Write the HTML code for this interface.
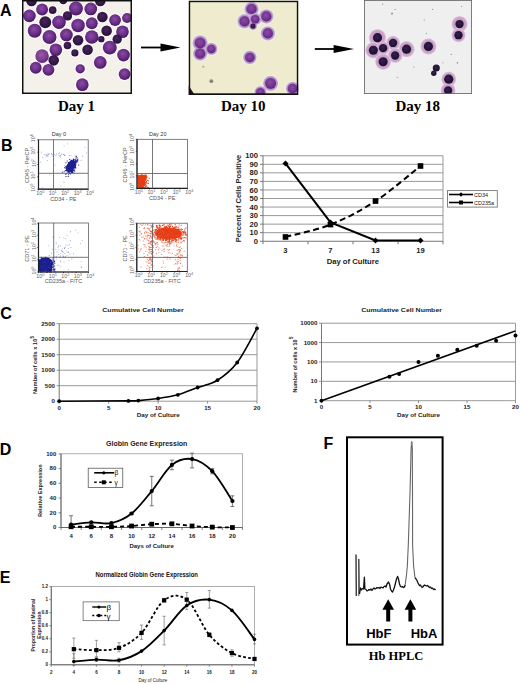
<!DOCTYPE html><html><head><meta charset="utf-8"><style>html,body{margin:0;padding:0;background:#fff;overflow:hidden;width:520px;height:684px;}svg{display:block;}</style></head><body><svg width="520" height="684" viewBox="0 0 520 684"><rect width="520" height="684" fill="#fff"/><defs><radialGradient id="gP" cx="45%" cy="40%" r="60%"><stop offset="0" stop-color="#8a4ca4"/><stop offset="0.6" stop-color="#6a2e88"/><stop offset="1" stop-color="#461a60"/></radialGradient><radialGradient id="gL" cx="45%" cy="40%" r="60%"><stop offset="0" stop-color="#9a5aa8"/><stop offset="0.7" stop-color="#7a3a8e"/><stop offset="1" stop-color="#5a2470"/></radialGradient><radialGradient id="gD" cx="45%" cy="40%" r="60%"><stop offset="0" stop-color="#4a2460"/><stop offset="1" stop-color="#261236"/></radialGradient><radialGradient id="gP2" cx="45%" cy="40%" r="60%"><stop offset="0" stop-color="#8a4ca4"/><stop offset="0.75" stop-color="#70308e"/><stop offset="1" stop-color="#582478"/></radialGradient><radialGradient id="gC2" cx="50%" cy="50%" r="50%"><stop offset="0.7" stop-color="#a882bc"/><stop offset="1" stop-color="#cab6d6"/></radialGradient><radialGradient id="gC3" cx="50%" cy="50%" r="50%"><stop offset="0.4" stop-color="#c494c2"/><stop offset="0.82" stop-color="#cfa6cc"/><stop offset="1" stop-color="#e4d4e4"/></radialGradient><radialGradient id="gN3" cx="45%" cy="40%" r="60%"><stop offset="0" stop-color="#342050"/><stop offset="1" stop-color="#1a0e2c"/></radialGradient></defs><svg x="22" y="0" width="110" height="94" viewBox="0 0 520 444" preserveAspectRatio="none"><rect x="0" y="0" width="520" height="444" fill="#f3f1e9"/><circle cx="45" cy="5" r="30" fill="#fdfbfd"/><circle cx="195" cy="0" r="25" fill="#fdfbfd"/><circle cx="370" cy="5" r="30" fill="#fdfbfd"/><circle cx="95" cy="45" r="33" fill="#fdfbfd"/><circle cx="145" cy="48" r="23" fill="#fdfbfd"/><circle cx="255" cy="40" r="38" fill="#fdfbfd"/><circle cx="325" cy="42" r="35" fill="#fdfbfd"/><circle cx="35" cy="75" r="35" fill="#fdfbfd"/><circle cx="215" cy="75" r="27" fill="#fdfbfd"/><circle cx="380" cy="80" r="30" fill="#fdfbfd"/><circle cx="440" cy="95" r="33" fill="#fdfbfd"/><circle cx="497" cy="85" r="29" fill="#fdfbfd"/><circle cx="110" cy="105" r="33" fill="#fdfbfd"/><circle cx="175" cy="105" r="37" fill="#fdfbfd"/><circle cx="265" cy="120" r="37" fill="#fdfbfd"/><circle cx="330" cy="110" r="33" fill="#fdfbfd"/><circle cx="60" cy="145" r="38" fill="#fdfbfd"/><circle cx="130" cy="175" r="38" fill="#fdfbfd"/><circle cx="210" cy="165" r="35" fill="#fdfbfd"/><circle cx="330" cy="175" r="37" fill="#fdfbfd"/><circle cx="400" cy="145" r="30" fill="#fdfbfd"/><circle cx="475" cy="150" r="35" fill="#fdfbfd"/><circle cx="265" cy="190" r="30" fill="#fdfbfd"/><circle cx="375" cy="185" r="20" fill="#fdfbfd"/><circle cx="450" cy="185" r="27" fill="#fdfbfd"/><circle cx="215" cy="215" r="23" fill="#fdfbfd"/><circle cx="160" cy="235" r="35" fill="#fdfbfd"/><circle cx="310" cy="235" r="30" fill="#fdfbfd"/><circle cx="415" cy="225" r="38" fill="#fdfbfd"/><circle cx="250" cy="250" r="22" fill="#fdfbfd"/><circle cx="95" cy="265" r="37" fill="#fdfbfd"/><circle cx="150" cy="285" r="30" fill="#fdfbfd"/><circle cx="480" cy="260" r="35" fill="#fdfbfd"/><circle cx="370" cy="295" r="35" fill="#fdfbfd"/><circle cx="65" cy="320" r="33" fill="#fdfbfd"/><circle cx="125" cy="330" r="33" fill="#fdfbfd"/><circle cx="275" cy="325" r="27" fill="#fdfbfd"/><circle cx="485" cy="350" r="33" fill="#fdfbfd"/><circle cx="285" cy="400" r="35" fill="#fdfbfd"/><circle cx="45" cy="5" r="25" fill="url(#gD)"/><circle cx="195" cy="0" r="20" fill="url(#gD)"/><circle cx="370" cy="5" r="25" fill="url(#gD)"/><circle cx="95" cy="45" r="28" fill="url(#gP)"/><circle cx="145" cy="48" r="18" fill="url(#gD)"/><circle cx="255" cy="40" r="33" fill="url(#gP)"/><circle cx="325" cy="42" r="30" fill="url(#gP)"/><circle cx="35" cy="75" r="30" fill="url(#gP)"/><circle cx="215" cy="75" r="22" fill="url(#gD)"/><circle cx="380" cy="80" r="25" fill="url(#gD)"/><circle cx="440" cy="95" r="28" fill="url(#gP)"/><circle cx="497" cy="85" r="24" fill="url(#gP)"/><circle cx="110" cy="105" r="28" fill="url(#gD)"/><circle cx="175" cy="105" r="32" fill="url(#gP)"/><circle cx="265" cy="120" r="32" fill="url(#gP)"/><circle cx="330" cy="110" r="28" fill="url(#gP)"/><circle cx="60" cy="145" r="33" fill="url(#gP)"/><circle cx="130" cy="175" r="33" fill="url(#gP)"/><circle cx="210" cy="165" r="30" fill="url(#gP)"/><circle cx="330" cy="175" r="32" fill="url(#gP)"/><circle cx="400" cy="145" r="25" fill="url(#gD)"/><circle cx="475" cy="150" r="30" fill="url(#gP)"/><circle cx="265" cy="190" r="25" fill="url(#gD)"/><circle cx="375" cy="185" r="15" fill="url(#gD)"/><circle cx="450" cy="185" r="22" fill="url(#gD)"/><circle cx="215" cy="215" r="18" fill="url(#gD)"/><circle cx="160" cy="235" r="30" fill="url(#gP)"/><circle cx="310" cy="235" r="25" fill="url(#gD)"/><circle cx="415" cy="225" r="33" fill="url(#gP)"/><circle cx="250" cy="250" r="17" fill="url(#gD)"/><circle cx="95" cy="265" r="32" fill="url(#gL)"/><circle cx="150" cy="285" r="25" fill="url(#gD)"/><circle cx="480" cy="260" r="30" fill="url(#gP)"/><circle cx="370" cy="295" r="30" fill="url(#gP)"/><circle cx="65" cy="320" r="28" fill="url(#gP)"/><circle cx="125" cy="330" r="28" fill="url(#gP)"/><circle cx="275" cy="325" r="22" fill="url(#gP)"/><circle cx="485" cy="350" r="28" fill="url(#gP)"/><circle cx="285" cy="400" r="30" fill="url(#gP)"/><rect x="3.5" y="3.5" width="513" height="437" fill="none" stroke="#111" stroke-width="7"/></svg><svg x="188.5" y="0.5" width="110" height="94.5" viewBox="0 0 520 445" preserveAspectRatio="none"><rect x="0" y="0" width="520" height="445" fill="#efebcf"/><circle cx="298" cy="40" r="37" fill="#f6f3f0"/><circle cx="265" cy="98" r="37" fill="#f6f3f0"/><circle cx="368" cy="75" r="37" fill="#f6f3f0"/><circle cx="315" cy="88" r="32" fill="#f6f3f0"/><circle cx="305" cy="120" r="22" fill="#f6f3f0"/><circle cx="375" cy="155" r="37" fill="#f6f3f0"/><circle cx="55" cy="200" r="39" fill="#f6f3f0"/><circle cx="55" cy="250" r="37" fill="#f6f3f0"/><circle cx="108" cy="228" r="32" fill="#f6f3f0"/><circle cx="290" cy="268" r="35" fill="#f6f3f0"/><circle cx="388" cy="390" r="39" fill="#f6f3f0"/><circle cx="340" cy="432" r="32" fill="#f6f3f0"/><circle cx="492" cy="415" r="35" fill="#f6f3f0"/><circle cx="298" cy="40" r="34" fill="url(#gC2)"/><circle cx="265" cy="98" r="34" fill="url(#gC2)"/><circle cx="368" cy="75" r="34" fill="url(#gC2)"/><circle cx="315" cy="88" r="29" fill="url(#gC2)"/><circle cx="305" cy="120" r="19" fill="url(#gC2)"/><circle cx="375" cy="155" r="34" fill="url(#gC2)"/><circle cx="55" cy="200" r="36" fill="url(#gC2)"/><circle cx="55" cy="250" r="34" fill="url(#gC2)"/><circle cx="108" cy="228" r="29" fill="url(#gC2)"/><circle cx="290" cy="268" r="32" fill="url(#gC2)"/><circle cx="388" cy="390" r="36" fill="url(#gC2)"/><circle cx="340" cy="432" r="29" fill="url(#gC2)"/><circle cx="492" cy="415" r="32" fill="url(#gC2)"/><circle cx="298" cy="40" r="24.0" fill="url(#gP2)"/><circle cx="265" cy="98" r="24.0" fill="url(#gP2)"/><circle cx="368" cy="75" r="24.0" fill="url(#gP2)"/><circle cx="315" cy="88" r="20.0" fill="url(#gP2)"/><circle cx="305" cy="120" r="12.0" fill="url(#gD)"/><circle cx="375" cy="155" r="24.0" fill="url(#gP2)"/><circle cx="55" cy="200" r="25.6" fill="url(#gP2)"/><circle cx="55" cy="250" r="24.0" fill="url(#gP2)"/><circle cx="108" cy="228" r="20.0" fill="url(#gP2)"/><circle cx="290" cy="268" r="22.4" fill="url(#gP2)"/><circle cx="388" cy="390" r="25.6" fill="url(#gP2)"/><circle cx="340" cy="432" r="20.0" fill="url(#gP2)"/><circle cx="492" cy="415" r="22.4" fill="url(#gP2)"/><circle cx="108" cy="380" r="9" fill="#8a8478"/><circle cx="70" cy="312" r="5" fill="#b0aa98"/><path d="M0,400 L30,445 L0,445 Z" fill="#201018"/><rect x="4" y="4" width="512" height="437" fill="none" stroke="#111" stroke-width="8"/></svg><svg x="364" y="0" width="108" height="94" viewBox="0 0 520 449" preserveAspectRatio="none"><rect x="0" y="0" width="520" height="449" fill="#f0eff0"/><circle cx="65" cy="180" r="42" fill="url(#gC3)"/><circle cx="140" cy="205" r="34" fill="url(#gC3)"/><circle cx="45" cy="240" r="39" fill="url(#gC3)"/><circle cx="92" cy="230" r="32" fill="url(#gC3)"/><circle cx="205" cy="235" r="39" fill="url(#gC3)"/><circle cx="150" cy="265" r="36" fill="url(#gC3)"/><circle cx="92" cy="295" r="39" fill="url(#gC3)"/><circle cx="310" cy="222" r="39" fill="url(#gC3)"/><circle cx="460" cy="115" r="39" fill="url(#gC3)"/><circle cx="455" cy="168" r="34" fill="url(#gC3)"/><circle cx="408" cy="378" r="36" fill="url(#gC3)"/><circle cx="405" cy="432" r="36" fill="url(#gC3)"/><circle cx="65" cy="180" r="22" fill="url(#gN3)"/><circle cx="140" cy="205" r="20" fill="url(#gN3)"/><circle cx="45" cy="240" r="22" fill="url(#gN3)"/><circle cx="92" cy="230" r="20" fill="url(#gN3)"/><circle cx="205" cy="235" r="22" fill="url(#gN3)"/><circle cx="150" cy="265" r="20" fill="url(#gN3)"/><circle cx="92" cy="295" r="22" fill="url(#gN3)"/><circle cx="310" cy="222" r="22" fill="url(#gN3)"/><circle cx="460" cy="115" r="20" fill="url(#gN3)"/><circle cx="455" cy="168" r="20" fill="url(#gN3)"/><circle cx="408" cy="378" r="22" fill="url(#gN3)"/><circle cx="405" cy="432" r="20" fill="url(#gN3)"/><circle cx="135" cy="65" r="5" fill="#9a98a0"/><circle cx="150" cy="45" r="3" fill="#9a98a0"/><circle cx="290" cy="95" r="3" fill="#9a98a0"/><circle cx="330" cy="45" r="3" fill="#9a98a0"/><circle cx="300" cy="160" r="3" fill="#9a98a0"/><circle cx="470" cy="30" r="3" fill="#9a98a0"/><circle cx="450" cy="300" r="4" fill="#9a98a0"/><circle cx="160" cy="370" r="3" fill="#9a98a0"/><circle cx="90" cy="20" r="3" fill="#9a98a0"/><circle cx="420" cy="260" r="3" fill="#9a98a0"/><circle cx="240" cy="320" r="3" fill="#9a98a0"/><circle cx="380" cy="300" r="3" fill="#9a98a0"/><circle cx="348" cy="325" r="17" fill="url(#gN3)"/><circle cx="336" cy="350" r="13" fill="url(#gN3)"/><rect x="2" y="2" width="516" height="445" fill="none" stroke="#666" stroke-width="4"/></svg><line x1="141" y1="47.5" x2="161.5" y2="47.5" stroke="#000" stroke-width="1.8"/><path d="M160.5,43.4 L180.5,47.5 L160.5,51.6 Z" fill="#000"/><line x1="314.8" y1="49" x2="334.6" y2="49" stroke="#000" stroke-width="1.8"/><path d="M333.6,44.9 L354,49 L333.6,53.1 Z" fill="#000"/><text x="0" y="16" font-family="'Liberation Sans', sans-serif" font-size="16" font-weight="bold" text-anchor="start" fill="#000"  >A</text><text x="76.5" y="111.3" font-family="'Liberation Serif', serif" font-size="15" font-weight="bold" text-anchor="middle" fill="#000"  >Day 1</text><text x="243.3" y="111.3" font-family="'Liberation Serif', serif" font-size="15" font-weight="bold" text-anchor="middle" fill="#000"  >Day 10</text><text x="417.8" y="111.4" font-family="'Liberation Serif', serif" font-size="15" font-weight="bold" text-anchor="middle" fill="#000"  >Day 18</text><text x="0.9" y="151.4" font-family="'Liberation Sans', sans-serif" font-size="16" font-weight="bold" text-anchor="start" fill="#000"  >B</text><ellipse cx="71" cy="166" rx="4" ry="6" transform="rotate(30 71 166)" fill="#161a88"/><path d="M71,165.53h1v1h-1zM71.84,167.22h1v1h-1zM70.23,166.4h1v1h-1zM68.51,164.5h1v1h-1zM69.73,166.59h1v1h-1zM68.22,168.12h1v1h-1zM71.17,168.76h1v1h-1zM74.75,160.62h1v1h-1zM69.62,166.86h1v1h-1zM69.26,162.05h1v1h-1zM72.37,166.99h1v1h-1zM72,162.04h1v1h-1zM71.3,160.36h1v1h-1zM68.39,167.66h1v1h-1zM70.92,169.38h1v1h-1zM72.95,160.04h1v1h-1zM67.24,165.39h1v1h-1zM69.72,164.67h1v1h-1zM65.68,166.37h1v1h-1zM67.39,169.69h1v1h-1zM65.84,167.22h1v1h-1zM70.34,164.3h1v1h-1zM67.45,170.26h1v1h-1zM71.76,163.19h1v1h-1zM71.44,166.99h1v1h-1zM70.48,163.45h1v1h-1zM63.95,167.34h1v1h-1zM69.49,161.55h1v1h-1zM70.86,171.69h1v1h-1zM71.32,164.81h1v1h-1zM66.72,169.76h1v1h-1zM69.66,166.85h1v1h-1zM68.26,168.42h1v1h-1zM68.74,167.75h1v1h-1zM73.97,169.64h1v1h-1zM68.74,164.48h1v1h-1zM70.91,161.38h1v1h-1zM73.48,161.21h1v1h-1zM69.37,163.14h1v1h-1zM70.69,168.47h1v1h-1zM71.31,168.25h1v1h-1zM71.18,162.98h1v1h-1zM67.57,164.25h1v1h-1zM71.21,164.78h1v1h-1zM74.8,167.49h1v1h-1zM66.67,160.59h1v1h-1zM73.41,165.88h1v1h-1zM71.33,162.53h1v1h-1zM69.2,170.4h1v1h-1zM76.6,158.8h1v1h-1zM73.13,163.63h1v1h-1zM67.64,163.85h1v1h-1zM71.21,162.91h1v1h-1zM72.61,169.02h1v1h-1zM70.47,168.84h1v1h-1zM72.91,163.44h1v1h-1zM70.81,163.52h1v1h-1zM72.87,158.98h1v1h-1zM75.03,161.97h1v1h-1zM69.11,167.24h1v1h-1zM71.57,165.35h1v1h-1zM69.7,166.64h1v1h-1zM71.36,162.38h1v1h-1zM67.68,168.15h1v1h-1zM69.38,167.03h1v1h-1zM70.45,170.27h1v1h-1zM73.52,169.83h1v1h-1zM74.21,163.32h1v1h-1zM67.29,166.32h1v1h-1zM68.78,167.38h1v1h-1zM72.81,162.89h1v1h-1zM65.42,167.71h1v1h-1zM69.7,166.74h1v1h-1zM70.73,163.06h1v1h-1zM74.52,165.33h1v1h-1zM72.93,164.32h1v1h-1zM70.08,167.4h1v1h-1zM69.97,166.18h1v1h-1zM70.3,164.31h1v1h-1zM75.27,160.13h1v1h-1zM69.8,166.13h1v1h-1zM70.15,164.95h1v1h-1zM71.99,166.01h1v1h-1zM70.66,166.23h1v1h-1zM70.45,162.29h1v1h-1zM67.88,168.41h1v1h-1zM70.97,161.99h1v1h-1zM69.76,165.02h1v1h-1zM74.27,162.81h1v1h-1zM72.83,158.47h1v1h-1zM70.93,166.32h1v1h-1zM72.87,165.13h1v1h-1zM70.05,166.2h1v1h-1zM73.95,162.64h1v1h-1zM70.98,164.89h1v1h-1zM72.63,161.91h1v1h-1zM67.39,167.75h1v1h-1zM71.97,163.65h1v1h-1zM66.27,169.62h1v1h-1zM65.3,166.41h1v1h-1zM70.15,167.31h1v1h-1zM68.48,168.21h1v1h-1zM71.46,165.25h1v1h-1zM77.29,160.23h1v1h-1zM68.67,169.31h1v1h-1zM69.25,162.23h1v1h-1zM71.58,166.98h1v1h-1zM72.38,165.75h1v1h-1zM70.51,167.2h1v1h-1zM70.42,167.56h1v1h-1zM72.97,162.64h1v1h-1zM72.46,164.19h1v1h-1zM68.11,169.96h1v1h-1zM70.78,167.45h1v1h-1zM71.1,166.55h1v1h-1zM68.05,163.53h1v1h-1zM71.73,167.1h1v1h-1zM68.6,171.21h1v1h-1zM73.72,167.11h1v1h-1zM71.54,166.32h1v1h-1zM71.25,161.14h1v1h-1zM69.35,170h1v1h-1zM70.67,165.79h1v1h-1zM65.41,162.34h1v1h-1zM67.83,169.37h1v1h-1zM72.02,160.8h1v1h-1zM65.04,166.32h1v1h-1zM73.37,162.41h1v1h-1zM66.11,173.28h1v1h-1zM73.12,163.39h1v1h-1zM68.63,168.49h1v1h-1zM73.18,169.71h1v1h-1zM71.37,170.53h1v1h-1zM66.7,168.73h1v1h-1zM74.5,162.8h1v1h-1zM75.04,159.35h1v1h-1zM70.82,164.04h1v1h-1zM70.23,167.82h1v1h-1zM70.55,167.51h1v1h-1zM68.27,168.26h1v1h-1zM74.08,166.82h1v1h-1zM69.48,164.75h1v1h-1zM70.86,165.93h1v1h-1zM68.78,169.77h1v1h-1zM69.25,169h1v1h-1zM67.42,171.75h1v1h-1zM74.52,164.7h1v1h-1zM70.57,165.37h1v1h-1zM73.7,165.18h1v1h-1zM71.04,162.96h1v1h-1zM69.06,162.45h1v1h-1zM70.09,168.39h1v1h-1zM69.43,166.94h1v1h-1zM71.02,166.91h1v1h-1zM69.95,161.64h1v1h-1zM70.16,165.5h1v1h-1zM67.14,166.93h1v1h-1zM68.74,165h1v1h-1zM75.63,155.95h1v1h-1zM69.12,166.32h1v1h-1zM68.05,170.78h1v1h-1zM71.94,166.48h1v1h-1zM74.94,161.41h1v1h-1zM66.93,168.83h1v1h-1zM70.42,168.69h1v1h-1zM69.23,158.95h1v1h-1zM66.07,169.11h1v1h-1zM73.06,166.18h1v1h-1zM70.93,168.1h1v1h-1zM71.2,170.97h1v1h-1zM68.89,170.9h1v1h-1zM72.27,166.04h1v1h-1zM69.49,167.98h1v1h-1zM70.6,168.65h1v1h-1zM67.9,166.57h1v1h-1zM67.59,168.29h1v1h-1zM74.74,166.08h1v1h-1zM69.58,172.89h1v1h-1zM71.82,164.94h1v1h-1zM70.91,165.92h1v1h-1zM69.76,167.47h1v1h-1zM69.58,171.04h1v1h-1zM72.76,164.66h1v1h-1zM70.15,171.02h1v1h-1zM70.58,163.39h1v1h-1zM71.06,165.4h1v1h-1zM74.29,163.07h1v1h-1zM72.91,167.02h1v1h-1zM72.07,168.39h1v1h-1zM69.42,162.58h1v1h-1zM67.13,165.98h1v1h-1zM73.66,165.13h1v1h-1zM73.71,162.11h1v1h-1zM70.61,161.7h1v1h-1zM72.52,168.05h1v1h-1zM73.19,165.94h1v1h-1zM73.33,165.84h1v1h-1zM73.58,162.75h1v1h-1zM69.72,170h1v1h-1zM75.24,162.28h1v1h-1zM67.51,171.76h1v1h-1zM73.41,161.55h1v1h-1zM72.38,162.45h1v1h-1zM73.45,164.89h1v1h-1zM76.26,160.17h1v1h-1zM75.16,165.09h1v1h-1zM67.79,169.05h1v1h-1zM66.27,166.57h1v1h-1zM73.29,164.6h1v1h-1zM68.16,166.95h1v1h-1zM70.97,168.78h1v1h-1zM73.35,162.44h1v1h-1zM66.4,167.93h1v1h-1zM65.09,173.82h1v1h-1zM71.73,172.22h1v1h-1zM71.12,171.92h1v1h-1zM70.31,166.68h1v1h-1zM71.11,166.58h1v1h-1zM68.59,172.31h1v1h-1zM66.76,168.62h1v1h-1zM70.53,163.39h1v1h-1zM68.28,168.28h1v1h-1zM66.4,170.61h1v1h-1zM72.42,162.51h1v1h-1zM70.83,161.17h1v1h-1zM72.14,160.88h1v1h-1zM68.23,169.96h1v1h-1zM69.16,165.02h1v1h-1zM68.2,167.55h1v1h-1zM68.52,168.39h1v1h-1zM71.55,167.47h1v1h-1zM68.81,166.54h1v1h-1zM72,166.79h1v1h-1zM71.95,162.65h1v1h-1zM76.67,160.9h1v1h-1zM67.1,165.68h1v1h-1zM73.49,167.64h1v1h-1zM70.75,166.1h1v1h-1zM70.96,163.8h1v1h-1zM66.94,167.81h1v1h-1zM69.71,166.24h1v1h-1zM73.08,166.63h1v1h-1zM70.77,161.37h1v1h-1zM71.23,162.72h1v1h-1zM70.19,165.44h1v1h-1zM74.23,171.33h1v1h-1zM70.94,168.92h1v1h-1zM64.84,170.02h1v1h-1zM69.06,169.51h1v1h-1zM65.49,176.08h1v1h-1zM61.9,171.74h1v1h-1zM69.52,165.95h1v1h-1zM74.73,167h1v1h-1zM71.13,167.39h1v1h-1zM67.72,170.34h1v1h-1zM68.37,166.33h1v1h-1zM74.17,169.55h1v1h-1zM71.44,170.83h1v1h-1zM71.13,167.61h1v1h-1zM70.85,168.16h1v1h-1zM71.11,159.83h1v1h-1zM73.26,166.32h1v1h-1zM72.55,164.32h1v1h-1zM71.6,166.88h1v1h-1zM68.08,170.12h1v1h-1zM72.43,163.96h1v1h-1zM69.08,162.27h1v1h-1zM74.06,164.94h1v1h-1zM67.44,166.29h1v1h-1zM70.61,165.28h1v1h-1zM70.98,164.2h1v1h-1zM67.29,167.6h1v1h-1zM75.82,155.65h1v1h-1zM75.09,166.77h1v1h-1zM69.7,167.68h1v1h-1zM73.16,167.81h1v1h-1zM72.06,171.2h1v1h-1zM63.68,171.24h1v1h-1zM71.7,160.09h1v1h-1zM70.83,163.43h1v1h-1zM71.23,162.21h1v1h-1zM67.98,166.62h1v1h-1zM70.25,166.77h1v1h-1zM70.5,160.33h1v1h-1zM74.33,164.68h1v1h-1zM71.94,160.8h1v1h-1zM70.98,166.91h1v1h-1zM75.28,162.64h1v1h-1zM69.45,166.16h1v1h-1zM69.91,166.55h1v1h-1zM65.91,167.97h1v1h-1zM75.39,161.05h1v1h-1zM73.7,159.03h1v1h-1zM73.57,164.1h1v1h-1zM72.87,170.22h1v1h-1zM71.31,171.74h1v1h-1zM71.6,169.55h1v1h-1zM70.29,168.62h1v1h-1zM70.43,164.37h1v1h-1zM71.15,170.23h1v1h-1zM75.23,162.84h1v1h-1zM72.56,164.69h1v1h-1zM70.84,165.24h1v1h-1zM69.38,167.42h1v1h-1zM69.22,165.95h1v1h-1zM75.49,162.57h1v1h-1zM72.42,161.74h1v1h-1zM71.19,164.74h1v1h-1zM70.03,173.54h1v1h-1zM67.89,167.99h1v1h-1zM70.81,165.41h1v1h-1zM73.45,165.87h1v1h-1zM69.9,168.91h1v1h-1zM70.36,163.1h1v1h-1zM70.38,165.81h1v1h-1zM71.31,168.54h1v1h-1zM66.54,169.97h1v1h-1zM70.34,166.83h1v1h-1zM68.61,172.36h1v1h-1zM73.48,162.21h1v1h-1zM68.84,167.77h1v1h-1zM72.62,163.29h1v1h-1zM75.27,167.46h1v1h-1zM70.12,160.75h1v1h-1zM69.32,165.18h1v1h-1zM71.54,164.03h1v1h-1zM70.99,168h1v1h-1zM68.22,169.79h1v1h-1zM72.29,169.28h1v1h-1zM76.64,157.28h1v1h-1zM70.28,168.77h1v1h-1zM70.43,165.52h1v1h-1zM68.07,166.07h1v1h-1zM71.89,166.99h1v1h-1zM67.51,165.7h1v1h-1zM67.9,161.95h1v1h-1zM74.58,162.35h1v1h-1zM68.46,163.29h1v1h-1zM74.03,161.91h1v1h-1zM75.27,164.1h1v1h-1zM71.73,166.42h1v1h-1zM72.55,169.68h1v1h-1zM76.47,161.53h1v1h-1zM70.45,161.78h1v1h-1zM69.34,164.9h1v1h-1zM67.21,165.92h1v1h-1zM71.12,162.26h1v1h-1zM75.14,164.38h1v1h-1zM73.69,162.16h1v1h-1zM68.36,161.92h1v1h-1zM68.6,169.79h1v1h-1zM69.59,166.66h1v1h-1zM71.82,166.49h1v1h-1zM70.43,166.72h1v1h-1zM71.6,167.47h1v1h-1zM71.83,165.53h1v1h-1zM70.16,170.31h1v1h-1zM70.89,167.36h1v1h-1zM71.58,166.77h1v1h-1zM70.76,167.4h1v1h-1zM72.41,160.62h1v1h-1zM76.24,161.8h1v1h-1zM72.66,164.05h1v1h-1zM71.16,166.51h1v1h-1zM66.28,165.25h1v1h-1zM72.09,170.14h1v1h-1zM65.55,170.17h1v1h-1zM67.05,165.15h1v1h-1zM73.39,159.17h1v1h-1zM72.98,163.76h1v1h-1zM70.58,166.03h1v1h-1zM66.21,167.23h1v1h-1zM69.96,167.01h1v1h-1zM69.1,165.42h1v1h-1zM72.78,166.4h1v1h-1zM77.32,159.35h1v1h-1zM71.61,165.45h1v1h-1zM68.82,170.49h1v1h-1zM67.72,176.05h1v1h-1zM70.84,163.08h1v1h-1zM70.5,164.95h1v1h-1zM67.78,165.75h1v1h-1zM71.33,168.13h1v1h-1zM67.78,164.83h1v1h-1zM74.11,162.34h1v1h-1zM73.98,163.81h1v1h-1zM74.04,160.91h1v1h-1zM69.67,164.06h1v1h-1zM72.44,163.55h1v1h-1zM70.63,159.95h1v1h-1zM69.91,162.42h1v1h-1zM70.05,165.43h1v1h-1zM67.36,169.02h1v1h-1zM66.96,168.3h1v1h-1zM73.22,159.09h1v1h-1zM70.46,164.98h1v1h-1zM71.61,167.97h1v1h-1zM73.8,165.69h1v1h-1zM66.15,169.19h1v1h-1zM68.8,164.88h1v1h-1zM71.49,167.55h1v1h-1zM72.1,163.48h1v1h-1zM69.94,163.23h1v1h-1zM73.88,161.55h1v1h-1zM71.59,169.94h1v1h-1zM67.6,169.06h1v1h-1zM68.39,171.33h1v1h-1zM73.26,162.96h1v1h-1zM72.3,167.9h1v1h-1zM65.68,167.95h1v1h-1zM74.77,162.86h1v1h-1zM72.67,172.29h1v1h-1zM74.76,165.65h1v1h-1zM69.93,165.25h1v1h-1zM70.17,166.33h1v1h-1zM67.85,169.21h1v1h-1zM78.1,164.62h1v1h-1zM70.51,164.88h1v1h-1zM75.45,157.62h1v1h-1zM69.19,166.44h1v1h-1zM71.46,165.72h1v1h-1zM66.32,169.64h1v1h-1zM69.93,170.72h1v1h-1zM73.75,165h1v1h-1zM67.5,170.92h1v1h-1zM74,160.57h1v1h-1zM71.94,167.94h1v1h-1zM68.08,174.37h1v1h-1zM69.6,169.32h1v1h-1zM69.71,167.67h1v1h-1zM70.86,166.56h1v1h-1zM69.5,172.43h1v1h-1zM68.68,164.85h1v1h-1zM70.15,166.27h1v1h-1zM68.12,169.42h1v1h-1zM67.39,170.79h1v1h-1zM70.87,164.78h1v1h-1zM73.47,165.18h1v1h-1zM66.72,168.19h1v1h-1zM71.01,166.36h1v1h-1zM69.18,166.89h1v1h-1zM68.26,164.5h1v1h-1zM73.39,164.25h1v1h-1zM69.55,169.66h1v1h-1zM75.2,160.13h1v1h-1zM68.82,166.82h1v1h-1zM72.08,167.23h1v1h-1zM70.36,163.23h1v1h-1zM68.89,168.04h1v1h-1zM72.65,161.65h1v1h-1z" fill="#1c2090" fill-opacity="1"/><path d="M63.89,155.05h0.8v0.8h-0.8zM63.92,154.41h0.8v0.8h-0.8zM45.61,155.73h0.8v0.8h-0.8zM40.99,151.79h0.8v0.8h-0.8zM64.6,155.26h0.8v0.8h-0.8zM51.03,153.26h0.8v0.8h-0.8zM48.41,154.23h0.8v0.8h-0.8zM61.31,153.43h0.8v0.8h-0.8zM63.92,154.95h0.8v0.8h-0.8zM47.73,153.41h0.8v0.8h-0.8zM56.06,153.4h0.8v0.8h-0.8zM59.14,152.62h0.8v0.8h-0.8zM45.55,154.47h0.8v0.8h-0.8zM55.55,155.1h0.8v0.8h-0.8zM51.68,155.73h0.8v0.8h-0.8zM46.64,154.33h0.8v0.8h-0.8zM47.08,155.76h0.8v0.8h-0.8zM52.67,154.52h0.8v0.8h-0.8zM52.3,154.39h0.8v0.8h-0.8zM46.35,155.19h0.8v0.8h-0.8zM47.74,155.77h0.8v0.8h-0.8zM63.13,154.09h0.8v0.8h-0.8zM54.14,154.21h0.8v0.8h-0.8zM60.85,154.31h0.8v0.8h-0.8zM64.02,154.6h0.8v0.8h-0.8zM57.89,153.42h0.8v0.8h-0.8zM74.71,155.73h0.8v0.8h-0.8zM43.75,154.02h0.8v0.8h-0.8zM60.08,155.05h0.8v0.8h-0.8zM48.82,153.51h0.8v0.8h-0.8zM70.56,154.93h0.8v0.8h-0.8zM69,154.97h0.8v0.8h-0.8zM42.31,156.93h0.8v0.8h-0.8zM58.64,154.95h0.8v0.8h-0.8zM59.9,156.63h0.8v0.8h-0.8zM59.37,155.65h0.8v0.8h-0.8zM51.29,153.71h0.8v0.8h-0.8zM85.95,152.48h0.8v0.8h-0.8zM80.71,159.92h0.8v0.8h-0.8zM54.63,164.72h0.8v0.8h-0.8zM40.38,161.79h0.8v0.8h-0.8zM49.38,174.48h0.8v0.8h-0.8zM63.61,181.83h0.8v0.8h-0.8zM82.15,155.87h0.8v0.8h-0.8zM53.16,185.13h0.8v0.8h-0.8zM63.67,145.53h0.8v0.8h-0.8zM42.17,187.54h0.8v0.8h-0.8zM67.23,143.55h0.8v0.8h-0.8zM64.03,164.69h0.8v0.8h-0.8zM60.46,185.72h0.8v0.8h-0.8zM84.61,146.88h0.8v0.8h-0.8zM47.13,160.14h0.8v0.8h-0.8z" fill="#5060b0" fill-opacity="0.7"/><rect x="38.5" y="139.8" width="49.7" height="49.39999999999998" fill="none" stroke="#555" stroke-width="0.75"/><line x1="38.5" y1="139.8" x2="38.5" y2="189.2" stroke="#222" stroke-width="1.2"/><line x1="38.5" y1="189.2" x2="88.2" y2="189.2" stroke="#222" stroke-width="1.2"/><line x1="53.5" y1="139.8" x2="53.5" y2="189.2" stroke="#555" stroke-width="0.8"/><line x1="38.5" y1="173.3" x2="88.2" y2="173.3" stroke="#555" stroke-width="0.8"/><text x="58.85" y="136.3" font-family="'Liberation Sans', sans-serif" font-size="5.5" font-weight="normal" text-anchor="middle" fill="#333"  >Day 0</text><text x="40.3" y="194.8" font-family="'Liberation Sans', sans-serif" font-size="5.2" font-weight="normal" text-anchor="middle" fill="#666"  >10<tspan font-size="3.8" dy="-2">0</tspan></text><text x="35.5" y="187.7" font-family="'Liberation Sans', sans-serif" font-size="5.2" font-weight="normal" text-anchor="middle" fill="#666"  transform="rotate(-90 35.5 187.7)">10<tspan font-size="3.8" dy="-2">0</tspan></text><line x1="37.3" y1="189.2" x2="38.5" y2="189.2" stroke="#222" stroke-width="0.8"/><line x1="38.5" y1="189.2" x2="38.5" y2="190.39999999999998" stroke="#222" stroke-width="0.8"/><text x="52.72" y="194.8" font-family="'Liberation Sans', sans-serif" font-size="5.2" font-weight="normal" text-anchor="middle" fill="#666"  >10<tspan font-size="3.8" dy="-2">1</tspan></text><text x="35.5" y="175.35" font-family="'Liberation Sans', sans-serif" font-size="5.2" font-weight="normal" text-anchor="middle" fill="#666"  transform="rotate(-90 35.5 175.35)">10<tspan font-size="3.8" dy="-2">1</tspan></text><line x1="37.3" y1="176.85" x2="38.5" y2="176.85" stroke="#222" stroke-width="0.8"/><line x1="50.92" y1="189.2" x2="50.92" y2="190.39999999999998" stroke="#222" stroke-width="0.8"/><text x="65.15" y="194.8" font-family="'Liberation Sans', sans-serif" font-size="5.2" font-weight="normal" text-anchor="middle" fill="#666"  >10<tspan font-size="3.8" dy="-2">2</tspan></text><text x="35.5" y="163" font-family="'Liberation Sans', sans-serif" font-size="5.2" font-weight="normal" text-anchor="middle" fill="#666"  transform="rotate(-90 35.5 163)">10<tspan font-size="3.8" dy="-2">2</tspan></text><line x1="37.3" y1="164.5" x2="38.5" y2="164.5" stroke="#222" stroke-width="0.8"/><line x1="63.35" y1="189.2" x2="63.35" y2="190.39999999999998" stroke="#222" stroke-width="0.8"/><text x="77.58" y="194.8" font-family="'Liberation Sans', sans-serif" font-size="5.2" font-weight="normal" text-anchor="middle" fill="#666"  >10<tspan font-size="3.8" dy="-2">3</tspan></text><text x="35.5" y="150.65" font-family="'Liberation Sans', sans-serif" font-size="5.2" font-weight="normal" text-anchor="middle" fill="#666"  transform="rotate(-90 35.5 150.65)">10<tspan font-size="3.8" dy="-2">3</tspan></text><line x1="37.3" y1="152.15" x2="38.5" y2="152.15" stroke="#222" stroke-width="0.8"/><line x1="75.78" y1="189.2" x2="75.78" y2="190.39999999999998" stroke="#222" stroke-width="0.8"/><text x="90" y="194.8" font-family="'Liberation Sans', sans-serif" font-size="5.2" font-weight="normal" text-anchor="middle" fill="#666"  >10<tspan font-size="3.8" dy="-2">4</tspan></text><text x="35.5" y="138.3" font-family="'Liberation Sans', sans-serif" font-size="5.2" font-weight="normal" text-anchor="middle" fill="#666"  transform="rotate(-90 35.5 138.3)">10<tspan font-size="3.8" dy="-2">4</tspan></text><line x1="37.3" y1="139.8" x2="38.5" y2="139.8" stroke="#222" stroke-width="0.8"/><line x1="88.2" y1="189.2" x2="88.2" y2="190.39999999999998" stroke="#222" stroke-width="0.8"/><text x="63.35" y="200.6" font-family="'Liberation Sans', sans-serif" font-size="5.5" font-weight="normal" text-anchor="middle" fill="#555"  >CD34 - PE</text><text x="28.7" y="165.5" font-family="'Liberation Sans', sans-serif" font-size="5.5" font-weight="normal" text-anchor="middle" fill="#555"  transform="rotate(-90 28.7 165.5)">CD45 - PerCP</text><path d="M137.5,175.5 L146.5,174.5 L147.5,177 L145,182 L143.5,188 L137.5,188 Z" fill="#e8441c"/><path d="M143.02,181.31h1v1h-1zM140.86,179.94h1v1h-1zM143.66,182.32h1v1h-1zM141.39,181.62h1v1h-1zM146.03,181.06h1v1h-1zM140.73,186.78h1v1h-1zM143.79,175.56h1v1h-1zM140.59,181.57h1v1h-1zM139.44,176.59h1v1h-1zM140.81,181.39h1v1h-1zM137.91,182.55h1v1h-1zM141.81,180.92h1v1h-1zM147.85,186.88h1v1h-1zM144.48,176.31h1v1h-1zM138.62,183.89h1v1h-1zM139.23,177.65h1v1h-1zM140.45,182.89h1v1h-1zM144.11,182.9h1v1h-1zM139.71,177.29h1v1h-1zM143.8,182.9h1v1h-1zM143.75,187.97h1v1h-1zM140.53,181.65h1v1h-1zM138.59,180.64h1v1h-1zM139.68,185.62h1v1h-1zM143.45,182.01h1v1h-1zM139.86,179.41h1v1h-1zM142.75,175.4h1v1h-1zM146.36,186.61h1v1h-1zM138.51,182.35h1v1h-1zM143.76,186.87h1v1h-1zM144.51,184.46h1v1h-1zM139.56,176.35h1v1h-1zM139.02,184.96h1v1h-1zM141.21,176.16h1v1h-1zM145.32,183.83h1v1h-1zM138.62,181.26h1v1h-1zM140.8,182.15h1v1h-1zM140.91,177.82h1v1h-1zM141.93,176.28h1v1h-1zM142.21,181.56h1v1h-1zM140.94,178.03h1v1h-1zM144.46,177.37h1v1h-1zM141.5,179.13h1v1h-1zM141.84,176.02h1v1h-1zM142.07,175.03h1v1h-1zM139.13,180.6h1v1h-1zM139.83,181.79h1v1h-1zM142.41,175.7h1v1h-1zM139.73,177.59h1v1h-1zM146.8,186.93h1v1h-1zM147.5,182.94h1v1h-1zM137.7,178h1v1h-1zM142.28,187.88h1v1h-1zM148.02,182.72h1v1h-1zM143.54,177.53h1v1h-1zM142.07,176.24h1v1h-1zM140.96,182.03h1v1h-1zM140.09,181.52h1v1h-1zM140.95,175.51h1v1h-1zM140.07,176.58h1v1h-1zM143.44,183.93h1v1h-1zM140.46,182.72h1v1h-1zM140.35,178.02h1v1h-1zM138.37,181.93h1v1h-1zM141.37,183.12h1v1h-1zM141.03,179.59h1v1h-1zM144.21,183.83h1v1h-1zM142.45,179.25h1v1h-1zM142.43,180.35h1v1h-1zM141.65,183.94h1v1h-1zM141.17,186.88h1v1h-1zM138.68,175.4h1v1h-1zM144.99,186.26h1v1h-1zM141.59,185.75h1v1h-1zM139.55,183.85h1v1h-1zM140.23,180.98h1v1h-1zM139.74,175.76h1v1h-1zM141.92,183.58h1v1h-1zM139.63,177.41h1v1h-1zM139.6,187.06h1v1h-1zM141.4,186.55h1v1h-1zM144.25,188.34h1v1h-1zM143.18,187.71h1v1h-1zM138.02,179.31h1v1h-1zM139.52,175.5h1v1h-1zM146.12,182.46h1v1h-1zM141.51,174.51h1v1h-1zM144.25,182.62h1v1h-1zM147.88,180.16h1v1h-1zM144.87,181.93h1v1h-1zM141.86,180.75h1v1h-1zM143.1,186.69h1v1h-1zM139.91,180.09h1v1h-1zM138.75,184.34h1v1h-1zM141.64,178.09h1v1h-1zM139.04,178.58h1v1h-1zM141.34,184.4h1v1h-1zM141.75,176.38h1v1h-1zM147.59,182.74h1v1h-1zM139.29,174.94h1v1h-1zM141.18,181.3h1v1h-1zM141.07,187.03h1v1h-1zM142.64,178.65h1v1h-1zM144.22,183.12h1v1h-1zM140.22,176.99h1v1h-1zM139.36,175.63h1v1h-1zM139.09,185.44h1v1h-1zM141.62,182.9h1v1h-1zM138.86,177.05h1v1h-1zM140.53,183.24h1v1h-1zM141.58,179.76h1v1h-1zM142.81,184.66h1v1h-1zM139.96,181.4h1v1h-1zM140.85,181.77h1v1h-1zM138.51,177.41h1v1h-1zM145.71,181.4h1v1h-1zM140.62,178.91h1v1h-1zM142.07,175.84h1v1h-1zM140.53,180h1v1h-1zM139.4,176.38h1v1h-1zM141.34,181.31h1v1h-1zM141.49,182.72h1v1h-1zM141.29,175.48h1v1h-1zM141.12,177.22h1v1h-1zM139.28,182.82h1v1h-1zM140.08,186.85h1v1h-1zM142.09,184.52h1v1h-1zM143.17,180.44h1v1h-1zM143.83,187.67h1v1h-1zM140.21,174.63h1v1h-1zM143.9,187.83h1v1h-1zM144.55,179.9h1v1h-1zM141.12,186.85h1v1h-1zM141.05,176.85h1v1h-1zM143.65,182.63h1v1h-1zM137.95,178.54h1v1h-1zM142.04,181.64h1v1h-1zM140.12,174.7h1v1h-1zM140.54,177.96h1v1h-1zM139.18,180.78h1v1h-1zM141.45,185.55h1v1h-1zM143.81,182.37h1v1h-1zM141.29,178.17h1v1h-1zM141.01,181.76h1v1h-1zM142.55,176.7h1v1h-1zM140.86,185.77h1v1h-1zM143.08,178.13h1v1h-1zM146.05,185.13h1v1h-1zM141.42,180.73h1v1h-1zM137.61,175.22h1v1h-1zM139.26,178.64h1v1h-1zM137.71,177.29h1v1h-1zM138.39,177.7h1v1h-1zM144.89,185.44h1v1h-1zM142.09,183.76h1v1h-1zM137.55,176.97h1v1h-1zM143.2,178.32h1v1h-1zM144.78,183.59h1v1h-1zM140.56,180.19h1v1h-1zM139.74,184.11h1v1h-1zM142.24,184.56h1v1h-1zM143.16,181.64h1v1h-1zM144.57,181.76h1v1h-1zM144.65,179.19h1v1h-1zM144.58,178.96h1v1h-1zM145.04,178.81h1v1h-1zM143.22,180.29h1v1h-1zM137.52,177.53h1v1h-1zM141.16,183.68h1v1h-1zM142.32,179.85h1v1h-1zM140.5,179.79h1v1h-1zM143.87,177.44h1v1h-1zM140.56,186.84h1v1h-1zM139.09,181.82h1v1h-1zM143.23,184.84h1v1h-1zM142.07,186.95h1v1h-1zM143.91,181.16h1v1h-1zM144.26,185.01h1v1h-1zM139.74,184.68h1v1h-1zM140.31,186.93h1v1h-1zM138.94,181.43h1v1h-1zM142.02,184.16h1v1h-1zM144.6,187.31h1v1h-1zM140.24,177.86h1v1h-1zM138.55,181.23h1v1h-1zM146.77,180.05h1v1h-1zM140.33,177.82h1v1h-1zM138.29,177.11h1v1h-1zM142.12,180.73h1v1h-1zM142.61,182.08h1v1h-1zM139.67,181.92h1v1h-1zM143.56,176.41h1v1h-1zM140.23,188.15h1v1h-1zM139.1,184.41h1v1h-1zM141.96,184.05h1v1h-1zM143.5,180.53h1v1h-1zM139.85,179.89h1v1h-1zM142.36,183.54h1v1h-1zM141.26,182.5h1v1h-1zM148.84,177.82h1v1h-1zM139.66,183.05h1v1h-1zM141.36,173.71h1v1h-1zM141.17,184.74h1v1h-1zM143.38,183.31h1v1h-1zM143.82,181.64h1v1h-1zM144.79,187.89h1v1h-1zM142.35,176.76h1v1h-1zM139.94,180.92h1v1h-1zM140.1,186.09h1v1h-1zM142.83,180.84h1v1h-1zM143.01,180.06h1v1h-1zM145.13,183.13h1v1h-1zM142.59,179.76h1v1h-1zM144.26,188.34h1v1h-1zM145.44,179.26h1v1h-1zM141.93,184.62h1v1h-1zM137.64,174.31h1v1h-1zM138.43,182.21h1v1h-1zM137.76,178.86h1v1h-1zM139.3,179.96h1v1h-1zM144.7,178.29h1v1h-1zM143.02,179.96h1v1h-1zM144.11,177.82h1v1h-1z" fill="#e63c14" fill-opacity="1"/><rect x="137" y="139.3" width="50.5" height="49.0" fill="none" stroke="#555" stroke-width="0.75"/><line x1="137" y1="139.3" x2="137" y2="188.3" stroke="#222" stroke-width="1.2"/><line x1="137" y1="188.3" x2="187.5" y2="188.3" stroke="#222" stroke-width="1.2"/><line x1="152.5" y1="139.3" x2="152.5" y2="188.3" stroke="#555" stroke-width="0.8"/><line x1="137" y1="173.5" x2="187.5" y2="173.5" stroke="#555" stroke-width="0.8"/><text x="157.75" y="135.8" font-family="'Liberation Sans', sans-serif" font-size="5.5" font-weight="normal" text-anchor="middle" fill="#333"  >Day 20</text><text x="138.8" y="193.9" font-family="'Liberation Sans', sans-serif" font-size="5.2" font-weight="normal" text-anchor="middle" fill="#666"  >10<tspan font-size="3.8" dy="-2">0</tspan></text><text x="134" y="186.8" font-family="'Liberation Sans', sans-serif" font-size="5.2" font-weight="normal" text-anchor="middle" fill="#666"  transform="rotate(-90 134 186.8)">10<tspan font-size="3.8" dy="-2">0</tspan></text><line x1="135.8" y1="188.3" x2="137" y2="188.3" stroke="#222" stroke-width="0.8"/><line x1="137" y1="188.3" x2="137" y2="189.5" stroke="#222" stroke-width="0.8"/><text x="151.43" y="193.9" font-family="'Liberation Sans', sans-serif" font-size="5.2" font-weight="normal" text-anchor="middle" fill="#666"  >10<tspan font-size="3.8" dy="-2">1</tspan></text><text x="134" y="174.55" font-family="'Liberation Sans', sans-serif" font-size="5.2" font-weight="normal" text-anchor="middle" fill="#666"  transform="rotate(-90 134 174.55)">10<tspan font-size="3.8" dy="-2">1</tspan></text><line x1="135.8" y1="176.05" x2="137" y2="176.05" stroke="#222" stroke-width="0.8"/><line x1="149.62" y1="188.3" x2="149.62" y2="189.5" stroke="#222" stroke-width="0.8"/><text x="164.05" y="193.9" font-family="'Liberation Sans', sans-serif" font-size="5.2" font-weight="normal" text-anchor="middle" fill="#666"  >10<tspan font-size="3.8" dy="-2">2</tspan></text><text x="134" y="162.3" font-family="'Liberation Sans', sans-serif" font-size="5.2" font-weight="normal" text-anchor="middle" fill="#666"  transform="rotate(-90 134 162.3)">10<tspan font-size="3.8" dy="-2">2</tspan></text><line x1="135.8" y1="163.8" x2="137" y2="163.8" stroke="#222" stroke-width="0.8"/><line x1="162.25" y1="188.3" x2="162.25" y2="189.5" stroke="#222" stroke-width="0.8"/><text x="176.68" y="193.9" font-family="'Liberation Sans', sans-serif" font-size="5.2" font-weight="normal" text-anchor="middle" fill="#666"  >10<tspan font-size="3.8" dy="-2">3</tspan></text><text x="134" y="150.05" font-family="'Liberation Sans', sans-serif" font-size="5.2" font-weight="normal" text-anchor="middle" fill="#666"  transform="rotate(-90 134 150.05)">10<tspan font-size="3.8" dy="-2">3</tspan></text><line x1="135.8" y1="151.55" x2="137" y2="151.55" stroke="#222" stroke-width="0.8"/><line x1="174.88" y1="188.3" x2="174.88" y2="189.5" stroke="#222" stroke-width="0.8"/><text x="189.3" y="193.9" font-family="'Liberation Sans', sans-serif" font-size="5.2" font-weight="normal" text-anchor="middle" fill="#666"  >10<tspan font-size="3.8" dy="-2">4</tspan></text><text x="134" y="137.8" font-family="'Liberation Sans', sans-serif" font-size="5.2" font-weight="normal" text-anchor="middle" fill="#666"  transform="rotate(-90 134 137.8)">10<tspan font-size="3.8" dy="-2">4</tspan></text><line x1="135.8" y1="139.3" x2="137" y2="139.3" stroke="#222" stroke-width="0.8"/><line x1="187.5" y1="188.3" x2="187.5" y2="189.5" stroke="#222" stroke-width="0.8"/><text x="162.25" y="199.7" font-family="'Liberation Sans', sans-serif" font-size="5.5" font-weight="normal" text-anchor="middle" fill="#555"  >CD34 - PE</text><text x="127.2" y="164.8" font-family="'Liberation Sans', sans-serif" font-size="5.5" font-weight="normal" text-anchor="middle" fill="#555"  transform="rotate(-90 127.2 164.8)">CD45 - PerCP</text><path d="M39,260 Q44,256 49,258 L53,262 L52,271.5 L39,271.5 Z" fill="#161a88"/><path d="M41.14,268.94h1v1h-1zM51.42,269.87h1v1h-1zM45.98,260.63h1v1h-1zM51.84,261.88h1v1h-1zM46.83,271.19h1v1h-1zM41.87,270.68h1v1h-1zM45.23,262.05h1v1h-1zM50.56,260.28h1v1h-1zM49.37,262.45h1v1h-1zM45.5,263.01h1v1h-1zM45.7,258.66h1v1h-1zM45.04,265.12h1v1h-1zM43.12,259.88h1v1h-1zM53.44,260.16h1v1h-1zM45.53,268.66h1v1h-1zM40.85,262.27h1v1h-1zM43.54,264.71h1v1h-1zM48.49,267.52h1v1h-1zM48.14,268.25h1v1h-1zM44.94,263.65h1v1h-1zM42.75,265.18h1v1h-1zM45.6,261.7h1v1h-1zM40.15,267.6h1v1h-1zM48.79,260.59h1v1h-1zM43.53,265.02h1v1h-1zM47.04,267.85h1v1h-1zM50.51,266.92h1v1h-1zM45.58,270.49h1v1h-1zM54.25,262.84h1v1h-1zM48.25,264.64h1v1h-1zM44.04,259.87h1v1h-1zM48.51,266h1v1h-1zM47.18,265.6h1v1h-1zM45.8,265.39h1v1h-1zM44.82,256.63h1v1h-1zM44.79,265.45h1v1h-1zM44.34,259.98h1v1h-1zM43.7,261.53h1v1h-1zM44.04,266.37h1v1h-1zM45.34,264.34h1v1h-1zM45.92,261.44h1v1h-1zM40.83,268.15h1v1h-1zM48.1,262.84h1v1h-1zM40.5,263h1v1h-1zM44.58,259.48h1v1h-1zM50.87,261.86h1v1h-1zM42.65,267.61h1v1h-1zM43.4,258.53h1v1h-1zM49.91,264.72h1v1h-1zM43.92,267.87h1v1h-1zM44.28,263.49h1v1h-1zM46.41,265.96h1v1h-1zM49.81,260.53h1v1h-1zM42.1,269.4h1v1h-1zM41.36,265.94h1v1h-1zM41.04,257.98h1v1h-1zM41.99,260.82h1v1h-1zM42.05,268.91h1v1h-1zM46.74,271.85h1v1h-1zM41.85,266.19h1v1h-1zM46,269.99h1v1h-1zM47.15,262.57h1v1h-1zM42.51,264.24h1v1h-1zM46.04,265h1v1h-1zM52.21,266.69h1v1h-1zM46.82,258.88h1v1h-1zM42.89,268.76h1v1h-1zM45.23,270.29h1v1h-1zM41.75,260.41h1v1h-1zM46.61,259.58h1v1h-1zM49.03,266.4h1v1h-1zM42.15,262.38h1v1h-1zM50.05,268.23h1v1h-1zM43.47,265.62h1v1h-1zM46.27,263.09h1v1h-1zM42.15,265.56h1v1h-1zM43.41,261.99h1v1h-1zM54.21,265.4h1v1h-1zM43.86,260.84h1v1h-1zM43.38,261.95h1v1h-1zM43.25,266.55h1v1h-1zM44.84,262.78h1v1h-1zM48.12,263.2h1v1h-1zM46.26,271.68h1v1h-1zM53.73,268.44h1v1h-1zM46.36,268.21h1v1h-1zM51.29,267.12h1v1h-1zM46.61,266.94h1v1h-1zM47.92,270.83h1v1h-1zM39.73,264.92h1v1h-1zM45.22,261.19h1v1h-1zM44.53,263.98h1v1h-1zM49.02,263.62h1v1h-1zM43.95,267.07h1v1h-1zM43.75,270.8h1v1h-1zM44.48,262.35h1v1h-1zM44.59,265.02h1v1h-1zM47.13,263.56h1v1h-1zM40.42,262.05h1v1h-1zM41.78,260.24h1v1h-1zM46.66,265.24h1v1h-1zM46.08,258.07h1v1h-1zM43.99,265.44h1v1h-1zM43.2,265.08h1v1h-1zM42.16,262.37h1v1h-1zM45.27,260.96h1v1h-1zM50.22,259.46h1v1h-1zM51.59,259.63h1v1h-1zM48.88,271.23h1v1h-1zM43.69,267.4h1v1h-1zM48.63,263.54h1v1h-1zM39.64,260.37h1v1h-1zM40.34,271.92h1v1h-1zM43.86,261.26h1v1h-1zM44.2,263.81h1v1h-1zM43.44,269.21h1v1h-1zM45.9,266.34h1v1h-1zM47.48,262.72h1v1h-1zM39.82,267.17h1v1h-1zM42.86,260h1v1h-1zM40.88,262.08h1v1h-1zM41.48,264.5h1v1h-1zM45.45,264.44h1v1h-1zM47.76,263.64h1v1h-1zM41.52,264.95h1v1h-1zM42.33,267.37h1v1h-1zM41.82,271.35h1v1h-1zM47.3,264.75h1v1h-1zM50.45,267.07h1v1h-1zM43.56,263.82h1v1h-1zM42.37,265.31h1v1h-1zM46.86,265.11h1v1h-1zM49.63,261.34h1v1h-1zM46.87,269.85h1v1h-1zM49.71,259.46h1v1h-1zM46.04,269.68h1v1h-1zM50.42,268.82h1v1h-1zM50.48,264.63h1v1h-1zM45.1,261.94h1v1h-1zM51.26,264.09h1v1h-1zM46.16,266.89h1v1h-1zM45.85,267.97h1v1h-1zM41.81,266.15h1v1h-1zM44.34,268.97h1v1h-1zM48.61,262.77h1v1h-1zM40.25,265.94h1v1h-1zM48.1,258.73h1v1h-1zM46.89,268.05h1v1h-1zM46.61,265.61h1v1h-1zM45.09,269.65h1v1h-1zM48.09,267.77h1v1h-1zM45.86,265.16h1v1h-1zM48.19,269.27h1v1h-1zM48.99,262.93h1v1h-1zM48.27,264h1v1h-1zM44.55,266.4h1v1h-1zM48.73,267.58h1v1h-1zM41.8,270.15h1v1h-1zM43.03,261.05h1v1h-1zM54.47,271.29h1v1h-1zM42.18,261.27h1v1h-1zM42.68,266.11h1v1h-1zM44.39,269.63h1v1h-1zM41.41,267.85h1v1h-1zM50.26,261.25h1v1h-1zM52.4,262.19h1v1h-1zM42.68,263.15h1v1h-1zM50.19,269.59h1v1h-1zM49.93,259.83h1v1h-1zM48.79,266.87h1v1h-1zM50.13,267.44h1v1h-1zM42.03,267.23h1v1h-1zM44.83,266.87h1v1h-1zM39.96,271.07h1v1h-1zM39.83,266.95h1v1h-1zM49.42,268.43h1v1h-1zM42.81,267.25h1v1h-1zM45.8,257.4h1v1h-1zM42.94,270.13h1v1h-1zM48.69,263.96h1v1h-1zM52.71,263.88h1v1h-1zM47.44,261.12h1v1h-1zM40.63,257.53h1v1h-1zM46.98,263.47h1v1h-1zM51,262.25h1v1h-1zM43.53,266.98h1v1h-1zM42.41,259.11h1v1h-1zM49.57,270.73h1v1h-1zM46.06,266.09h1v1h-1zM41.09,264.01h1v1h-1zM43.98,262.16h1v1h-1zM42.48,261.85h1v1h-1zM46.69,260.48h1v1h-1zM45.94,262.82h1v1h-1zM50.1,265.02h1v1h-1zM48.34,264.29h1v1h-1zM39.25,259.34h1v1h-1zM47.13,263.94h1v1h-1zM49.09,261.43h1v1h-1zM47.32,265.64h1v1h-1zM43.3,267.5h1v1h-1zM41.7,263.75h1v1h-1zM49.22,258.5h1v1h-1zM41.24,259.34h1v1h-1zM49.6,267.9h1v1h-1zM42.6,261.94h1v1h-1zM44.28,265.25h1v1h-1zM39.91,262.51h1v1h-1zM40.2,265.36h1v1h-1zM40.87,270.61h1v1h-1zM44.06,262.26h1v1h-1zM46.98,263.64h1v1h-1zM48.51,268.5h1v1h-1zM40.77,260.9h1v1h-1zM41.23,260.47h1v1h-1zM48.21,259.45h1v1h-1zM45.2,259.37h1v1h-1zM39.35,266.88h1v1h-1zM42.06,261.02h1v1h-1zM46.49,268.81h1v1h-1zM46.3,266h1v1h-1zM51.15,260.59h1v1h-1zM43.68,263.89h1v1h-1zM49.53,264.07h1v1h-1zM42.53,262.24h1v1h-1zM42.45,257.38h1v1h-1zM44.05,266.52h1v1h-1zM53.08,266.33h1v1h-1zM46.77,262.68h1v1h-1zM45.94,265.6h1v1h-1zM54.47,268.51h1v1h-1zM46.95,265.61h1v1h-1zM42.24,266.67h1v1h-1zM48.44,267.77h1v1h-1zM40.77,256.87h1v1h-1zM50.01,270.91h1v1h-1zM43.21,268.92h1v1h-1zM42.99,269.05h1v1h-1zM46.21,259.37h1v1h-1zM45.56,264.53h1v1h-1zM41.59,261.75h1v1h-1zM47.77,262.65h1v1h-1zM43.77,261.78h1v1h-1zM43.88,264.48h1v1h-1zM44.41,257.37h1v1h-1zM46.73,264.37h1v1h-1zM40.59,265.36h1v1h-1zM47.85,262.18h1v1h-1zM44.78,262.12h1v1h-1zM40.03,260.16h1v1h-1zM40.77,260.8h1v1h-1zM46.94,261.76h1v1h-1zM41.64,269.8h1v1h-1zM49.75,266.33h1v1h-1zM49.63,262.13h1v1h-1zM51.74,263.29h1v1h-1zM44.31,269.26h1v1h-1zM41.16,261.36h1v1h-1zM49.58,270.81h1v1h-1zM46.74,270.67h1v1h-1zM50,265.28h1v1h-1zM45.54,267.58h1v1h-1zM50.28,268h1v1h-1zM48.89,271.22h1v1h-1zM48.37,260.79h1v1h-1zM47.51,269.72h1v1h-1zM47.09,263.5h1v1h-1zM46.43,261.93h1v1h-1zM46.4,265.41h1v1h-1zM49.46,264.14h1v1h-1zM43.45,261.05h1v1h-1zM52.44,258.61h1v1h-1zM45.08,261.23h1v1h-1zM49.44,270.81h1v1h-1zM44.51,267.6h1v1h-1zM53.63,269.74h1v1h-1zM44.26,262.93h1v1h-1zM40.39,264.69h1v1h-1zM42.64,266.13h1v1h-1zM44.23,260.67h1v1h-1zM54.12,261.04h1v1h-1zM46.33,265.39h1v1h-1zM49.24,263.72h1v1h-1zM41.49,260.75h1v1h-1zM46.91,266.55h1v1h-1zM48.19,263.95h1v1h-1zM52.71,269.09h1v1h-1zM42.71,264.98h1v1h-1zM47.91,263.8h1v1h-1zM46.71,265.51h1v1h-1zM41.41,264.31h1v1h-1zM45.42,262.33h1v1h-1zM44.45,263.39h1v1h-1zM47.89,267.59h1v1h-1zM47.66,270.14h1v1h-1zM43.74,258.23h1v1h-1zM40.15,263.43h1v1h-1zM51.42,263.34h1v1h-1zM46.56,265.69h1v1h-1zM49.57,263.19h1v1h-1zM51.14,262.95h1v1h-1zM43.42,268.13h1v1h-1zM48.75,265.71h1v1h-1zM44.54,260.33h1v1h-1zM45.25,270.34h1v1h-1zM45.16,268.99h1v1h-1zM45.49,262.7h1v1h-1zM49.96,268.33h1v1h-1zM46,262.06h1v1h-1zM44.89,269.5h1v1h-1zM44.39,264.13h1v1h-1zM46.87,261.79h1v1h-1zM41.92,263.51h1v1h-1zM43.49,261.94h1v1h-1zM45.29,265.77h1v1h-1zM43.24,265.7h1v1h-1zM45.03,265.14h1v1h-1zM43.06,262.77h1v1h-1zM50.82,265.37h1v1h-1zM47.3,257.42h1v1h-1zM45.29,265.98h1v1h-1zM54.26,269.52h1v1h-1zM46.79,266.1h1v1h-1zM45.15,263.44h1v1h-1zM46.71,264.28h1v1h-1zM46.72,264.47h1v1h-1zM51.14,262.8h1v1h-1zM45.42,262.66h1v1h-1zM53.9,261.3h1v1h-1zM41.97,269.75h1v1h-1zM48.28,264.94h1v1h-1zM41.49,268.83h1v1h-1zM52.77,264h1v1h-1zM44.18,265.29h1v1h-1zM45.27,264.32h1v1h-1zM49.2,266.85h1v1h-1zM50.52,268.31h1v1h-1zM41.05,265.96h1v1h-1zM44.12,262.3h1v1h-1zM39.92,261.88h1v1h-1zM46.05,271.64h1v1h-1zM45.09,263.88h1v1h-1zM44.1,263.84h1v1h-1zM42.76,270.86h1v1h-1zM43.96,269.35h1v1h-1zM42.51,267.14h1v1h-1zM47.62,263.4h1v1h-1zM45.04,267.19h1v1h-1zM43.83,264.32h1v1h-1zM47.47,259.34h1v1h-1zM41.69,259.66h1v1h-1zM44.91,266.63h1v1h-1zM41.34,266.57h1v1h-1zM48.29,264.04h1v1h-1zM45.9,260.31h1v1h-1zM44.85,259.23h1v1h-1zM46.98,263.69h1v1h-1zM44.51,259.18h1v1h-1zM39.28,268.6h1v1h-1zM47.88,269.61h1v1h-1zM44.88,268.51h1v1h-1z" fill="#1c2090" fill-opacity="1"/><path d="M58.48,264.79h0.8v0.8h-0.8zM68.51,260.07h0.8v0.8h-0.8zM59.83,245.58h0.8v0.8h-0.8zM64.36,257.22h0.8v0.8h-0.8zM58.86,256.7h0.8v0.8h-0.8zM50.12,261.81h0.8v0.8h-0.8zM69.25,253.63h0.8v0.8h-0.8zM53.53,252.48h0.8v0.8h-0.8zM67.43,244.95h0.8v0.8h-0.8zM65.36,244.69h0.8v0.8h-0.8zM48.75,255.12h0.8v0.8h-0.8zM54.44,255.9h0.8v0.8h-0.8zM57.89,245.18h0.8v0.8h-0.8zM55.43,249.25h0.8v0.8h-0.8zM52.54,261.37h0.8v0.8h-0.8zM67.92,247.99h0.8v0.8h-0.8zM60.08,255.6h0.8v0.8h-0.8zM65.09,238.06h0.8v0.8h-0.8zM58.56,249.05h0.8v0.8h-0.8zM64.44,246.98h0.8v0.8h-0.8zM55.99,255.81h0.8v0.8h-0.8zM61.79,248.38h0.8v0.8h-0.8zM66.65,255.18h0.8v0.8h-0.8zM62.36,251.41h0.8v0.8h-0.8zM58.34,254.3h0.8v0.8h-0.8zM53.31,257.3h0.8v0.8h-0.8zM63.34,255.73h0.8v0.8h-0.8zM64.76,247.33h0.8v0.8h-0.8zM59.93,260.42h0.8v0.8h-0.8zM55.85,258.64h0.8v0.8h-0.8zM66.34,250.38h0.8v0.8h-0.8zM81.85,240.35h0.8v0.8h-0.8zM59.58,256.78h0.8v0.8h-0.8zM64.69,256.88h0.8v0.8h-0.8zM65.02,256.24h0.8v0.8h-0.8zM41.47,266.72h0.8v0.8h-0.8zM62.99,257.02h0.8v0.8h-0.8zM56.35,256.15h0.8v0.8h-0.8zM73.08,253.37h0.8v0.8h-0.8zM59.97,253.05h0.8v0.8h-0.8zM55.78,242.45h0.8v0.8h-0.8zM60.25,261.61h0.8v0.8h-0.8zM63.33,251.89h0.8v0.8h-0.8zM57.52,247.19h0.8v0.8h-0.8zM61.58,250.98h0.8v0.8h-0.8zM51.17,252.84h0.8v0.8h-0.8zM60.2,266.52h0.8v0.8h-0.8zM68.21,251.46h0.8v0.8h-0.8zM77.75,232.51h0.8v0.8h-0.8zM67.65,252.1h0.8v0.8h-0.8zM64.18,248.14h0.8v0.8h-0.8zM71.47,258.59h0.8v0.8h-0.8zM70.15,240.37h0.8v0.8h-0.8zM75.31,229.63h0.8v0.8h-0.8zM70.66,247.22h0.8v0.8h-0.8zM61.06,250.34h0.8v0.8h-0.8zM64.07,248.09h0.8v0.8h-0.8zM63.43,237.44h0.8v0.8h-0.8zM64.42,253.28h0.8v0.8h-0.8zM63.6,261.75h0.8v0.8h-0.8zM55.74,243.54h0.8v0.8h-0.8zM45.17,269.59h0.8v0.8h-0.8zM56.63,251.58h0.8v0.8h-0.8zM62.54,254.46h0.8v0.8h-0.8zM62.04,250.78h0.8v0.8h-0.8zM48.6,267.12h0.8v0.8h-0.8zM67.51,252.06h0.8v0.8h-0.8zM68.93,244.05h0.8v0.8h-0.8zM62.77,256.09h0.8v0.8h-0.8zM67.95,269.03h0.8v0.8h-0.8zM80.82,266.35h0.8v0.8h-0.8zM59.29,237.07h0.8v0.8h-0.8zM80.9,261.24h0.8v0.8h-0.8zM80.01,242.99h0.8v0.8h-0.8zM53.45,236.07h0.8v0.8h-0.8zM80.91,267.3h0.8v0.8h-0.8zM57.26,265.22h0.8v0.8h-0.8zM57.93,245.59h0.8v0.8h-0.8zM66.64,235.18h0.8v0.8h-0.8zM52.57,237.25h0.8v0.8h-0.8zM52.22,248.71h0.8v0.8h-0.8zM44.73,260.9h0.8v0.8h-0.8zM48.21,245.43h0.8v0.8h-0.8zM70.17,231.34h0.8v0.8h-0.8z" fill="#5a68b8" fill-opacity="0.7"/><rect x="38.5" y="223" width="50.0" height="49" fill="none" stroke="#555" stroke-width="0.75"/><line x1="38.5" y1="223" x2="38.5" y2="272" stroke="#222" stroke-width="1.2"/><line x1="38.5" y1="272" x2="88.5" y2="272" stroke="#222" stroke-width="1.2"/><line x1="53.7" y1="223" x2="53.7" y2="272" stroke="#555" stroke-width="0.8"/><line x1="38.5" y1="257.3" x2="88.5" y2="257.3" stroke="#555" stroke-width="0.8"/><text x="40.3" y="277.6" font-family="'Liberation Sans', sans-serif" font-size="5.2" font-weight="normal" text-anchor="middle" fill="#666"  >10<tspan font-size="3.8" dy="-2">0</tspan></text><text x="35.5" y="270.5" font-family="'Liberation Sans', sans-serif" font-size="5.2" font-weight="normal" text-anchor="middle" fill="#666"  transform="rotate(-90 35.5 270.5)">10<tspan font-size="3.8" dy="-2">0</tspan></text><line x1="37.3" y1="272" x2="38.5" y2="272" stroke="#222" stroke-width="0.8"/><line x1="38.5" y1="272" x2="38.5" y2="273.2" stroke="#222" stroke-width="0.8"/><text x="52.8" y="277.6" font-family="'Liberation Sans', sans-serif" font-size="5.2" font-weight="normal" text-anchor="middle" fill="#666"  >10<tspan font-size="3.8" dy="-2">1</tspan></text><text x="35.5" y="258.25" font-family="'Liberation Sans', sans-serif" font-size="5.2" font-weight="normal" text-anchor="middle" fill="#666"  transform="rotate(-90 35.5 258.25)">10<tspan font-size="3.8" dy="-2">1</tspan></text><line x1="37.3" y1="259.75" x2="38.5" y2="259.75" stroke="#222" stroke-width="0.8"/><line x1="51" y1="272" x2="51" y2="273.2" stroke="#222" stroke-width="0.8"/><text x="65.3" y="277.6" font-family="'Liberation Sans', sans-serif" font-size="5.2" font-weight="normal" text-anchor="middle" fill="#666"  >10<tspan font-size="3.8" dy="-2">2</tspan></text><text x="35.5" y="246" font-family="'Liberation Sans', sans-serif" font-size="5.2" font-weight="normal" text-anchor="middle" fill="#666"  transform="rotate(-90 35.5 246)">10<tspan font-size="3.8" dy="-2">2</tspan></text><line x1="37.3" y1="247.5" x2="38.5" y2="247.5" stroke="#222" stroke-width="0.8"/><line x1="63.5" y1="272" x2="63.5" y2="273.2" stroke="#222" stroke-width="0.8"/><text x="77.8" y="277.6" font-family="'Liberation Sans', sans-serif" font-size="5.2" font-weight="normal" text-anchor="middle" fill="#666"  >10<tspan font-size="3.8" dy="-2">3</tspan></text><text x="35.5" y="233.75" font-family="'Liberation Sans', sans-serif" font-size="5.2" font-weight="normal" text-anchor="middle" fill="#666"  transform="rotate(-90 35.5 233.75)">10<tspan font-size="3.8" dy="-2">3</tspan></text><line x1="37.3" y1="235.25" x2="38.5" y2="235.25" stroke="#222" stroke-width="0.8"/><line x1="76" y1="272" x2="76" y2="273.2" stroke="#222" stroke-width="0.8"/><text x="90.3" y="277.6" font-family="'Liberation Sans', sans-serif" font-size="5.2" font-weight="normal" text-anchor="middle" fill="#666"  >10<tspan font-size="3.8" dy="-2">4</tspan></text><text x="35.5" y="221.5" font-family="'Liberation Sans', sans-serif" font-size="5.2" font-weight="normal" text-anchor="middle" fill="#666"  transform="rotate(-90 35.5 221.5)">10<tspan font-size="3.8" dy="-2">4</tspan></text><line x1="37.3" y1="223" x2="38.5" y2="223" stroke="#222" stroke-width="0.8"/><line x1="88.5" y1="272" x2="88.5" y2="273.2" stroke="#222" stroke-width="0.8"/><text x="63.5" y="283.4" font-family="'Liberation Sans', sans-serif" font-size="5.5" font-weight="normal" text-anchor="middle" fill="#555"  >CD235a - FITC</text><text x="28.7" y="248.5" font-family="'Liberation Sans', sans-serif" font-size="5.5" font-weight="normal" text-anchor="middle" fill="#555"  transform="rotate(-90 28.7 248.5)">CD71 - PE</text><ellipse cx="168.5" cy="233.5" rx="13.5" ry="6" fill="#e4461e"/><path d="M177.3,234.93h1v1h-1zM165.61,231.19h1v1h-1zM165.53,236.18h1v1h-1zM168.99,229.9h1v1h-1zM161.98,229.26h1v1h-1zM164.47,227.2h1v1h-1zM166.72,234.03h1v1h-1zM180.24,232.79h1v1h-1zM180,232.69h1v1h-1zM165.93,231.36h1v1h-1zM180.88,238.75h1v1h-1zM167.65,231.31h1v1h-1zM171.04,230.11h1v1h-1zM175.07,237.98h1v1h-1zM170.34,238.69h1v1h-1zM169.95,226.04h1v1h-1zM158.42,230.6h1v1h-1zM178.44,235.45h1v1h-1zM164.7,233.07h1v1h-1zM165.57,239.22h1v1h-1zM144.07,227.53h1v1h-1zM176.01,235.71h1v1h-1zM174.55,230.49h1v1h-1zM174.39,238.29h1v1h-1zM175.83,232.7h1v1h-1zM181.53,237.12h1v1h-1zM167.63,230.41h1v1h-1zM175.5,227.36h1v1h-1zM162.05,228.56h1v1h-1zM165.17,230.57h1v1h-1zM176.45,228.9h1v1h-1zM171.13,237.8h1v1h-1zM157.33,238.36h1v1h-1zM170.89,234.09h1v1h-1zM166.54,228.86h1v1h-1zM161.45,232.53h1v1h-1zM171.47,230.26h1v1h-1zM164.76,238.82h1v1h-1zM155.44,234.26h1v1h-1zM159.11,234.96h1v1h-1zM182.15,231.4h1v1h-1zM155.88,224.95h1v1h-1zM169.78,229.92h1v1h-1zM172.88,228.53h1v1h-1zM173.11,234.48h1v1h-1zM158.2,233.39h1v1h-1zM165.43,229.79h1v1h-1zM169.13,231.45h1v1h-1zM174.4,239.27h1v1h-1zM162.84,229.16h1v1h-1zM158.69,229.33h1v1h-1zM176.02,232.09h1v1h-1zM176.84,230.2h1v1h-1zM170.96,231.29h1v1h-1zM163.13,235.13h1v1h-1zM171.25,239.93h1v1h-1zM168.87,225.88h1v1h-1zM174.7,232.93h1v1h-1zM158.01,233.17h1v1h-1zM168.93,232.66h1v1h-1zM166.73,232.25h1v1h-1zM159.12,231.64h1v1h-1zM169.73,237.02h1v1h-1zM168.28,231.14h1v1h-1zM164.72,232.49h1v1h-1zM171.17,233h1v1h-1zM156.65,233.43h1v1h-1zM167.57,232.32h1v1h-1zM171.45,237h1v1h-1zM170.27,232.97h1v1h-1zM176.61,233.7h1v1h-1zM158.39,232.79h1v1h-1zM155.94,228.99h1v1h-1zM169.91,229.68h1v1h-1zM171.64,228.8h1v1h-1zM184.96,233.77h1v1h-1zM172.93,230.15h1v1h-1zM161.01,228.75h1v1h-1zM174.45,233.95h1v1h-1zM161.23,235.1h1v1h-1zM156.11,225.96h1v1h-1zM170.61,233.13h1v1h-1zM173.72,232.58h1v1h-1zM172.51,237.27h1v1h-1zM182.5,233.28h1v1h-1zM170.27,230.58h1v1h-1zM177.74,241.78h1v1h-1zM159.78,228.7h1v1h-1zM156.86,232.61h1v1h-1zM179.41,236.39h1v1h-1zM179.8,228.72h1v1h-1zM172.09,232.59h1v1h-1zM169.81,234.55h1v1h-1zM169.33,242.61h1v1h-1zM162.49,229.43h1v1h-1zM180.31,232.81h1v1h-1zM173.27,235.63h1v1h-1zM172.05,233.32h1v1h-1zM171.01,228.19h1v1h-1zM176.38,234.63h1v1h-1zM172.04,233.43h1v1h-1zM173.96,234.78h1v1h-1zM158.65,237.53h1v1h-1zM172.08,237.05h1v1h-1zM185.5,234.63h1v1h-1zM163.85,234.24h1v1h-1zM166.97,228.61h1v1h-1zM175.14,232.46h1v1h-1zM175.66,233.88h1v1h-1zM173,231.4h1v1h-1zM155.06,233.39h1v1h-1zM172.01,229.7h1v1h-1zM158.53,239.14h1v1h-1zM161.4,241.61h1v1h-1zM172.38,231.44h1v1h-1zM165.63,234.6h1v1h-1zM174.48,232.06h1v1h-1zM174.22,234.74h1v1h-1zM173.78,233.31h1v1h-1zM160.83,232.11h1v1h-1zM162.86,233.5h1v1h-1zM159.49,229h1v1h-1zM163.74,235.7h1v1h-1zM159.27,230.14h1v1h-1zM162.72,235.14h1v1h-1zM166.33,233.52h1v1h-1zM160,237.38h1v1h-1zM156.65,232.93h1v1h-1zM157.11,237.09h1v1h-1zM171.63,229.31h1v1h-1zM168.48,235.44h1v1h-1zM176.21,232.1h1v1h-1zM176.36,233.78h1v1h-1zM165.27,233.29h1v1h-1zM173.36,236.75h1v1h-1zM156.48,224.92h1v1h-1zM186.26,234.29h1v1h-1zM177.56,227.02h1v1h-1zM166.28,237.83h1v1h-1zM158.69,225.11h1v1h-1zM171.04,228.98h1v1h-1zM153.04,226.3h1v1h-1zM161.77,239.56h1v1h-1zM173.99,227.84h1v1h-1zM168.6,233.46h1v1h-1zM164.07,230.86h1v1h-1zM175.61,225.8h1v1h-1zM159.69,231.65h1v1h-1zM170.28,235.65h1v1h-1zM164.02,232.26h1v1h-1zM161.22,236.76h1v1h-1zM171.71,231.55h1v1h-1zM160.06,233.03h1v1h-1zM183.22,231.46h1v1h-1zM163.32,234.37h1v1h-1zM183.92,240.6h1v1h-1zM159.25,234.45h1v1h-1zM172.85,233.78h1v1h-1zM158.4,230.53h1v1h-1zM157.27,229.98h1v1h-1zM169.28,238.86h1v1h-1zM173.42,228.55h1v1h-1zM157.81,229.35h1v1h-1zM177.47,232.61h1v1h-1zM161.62,231.29h1v1h-1zM169.05,240.82h1v1h-1zM171.04,223.54h1v1h-1zM172.76,234.45h1v1h-1zM153.62,235.85h1v1h-1zM180.95,228.52h1v1h-1zM172.49,230.42h1v1h-1zM164.6,234.73h1v1h-1zM159.81,239.52h1v1h-1zM154.45,229.32h1v1h-1zM157.11,226.68h1v1h-1zM172.36,236.89h1v1h-1zM165.27,239.09h1v1h-1zM158.95,231.66h1v1h-1zM163.78,224.14h1v1h-1zM180.51,238.81h1v1h-1zM165.35,232.21h1v1h-1zM163.32,237.5h1v1h-1zM178.8,232.83h1v1h-1zM171.7,231.5h1v1h-1zM168.35,231.19h1v1h-1zM163.14,238.89h1v1h-1zM155.58,238.74h1v1h-1zM158.64,224.45h1v1h-1zM164.16,229.25h1v1h-1zM166.24,240.11h1v1h-1zM170.85,231.53h1v1h-1zM172.41,227.56h1v1h-1zM169.78,233.02h1v1h-1zM169.76,232.57h1v1h-1zM159.94,232.61h1v1h-1zM150.76,231.08h1v1h-1zM163.83,231.76h1v1h-1zM160.37,231.18h1v1h-1zM162.78,234.34h1v1h-1zM165.8,229.75h1v1h-1zM158.05,231.84h1v1h-1zM159.12,232.42h1v1h-1zM167.2,238.22h1v1h-1zM168.93,234.49h1v1h-1zM162.75,232.56h1v1h-1zM171.99,235.14h1v1h-1zM166.24,234.62h1v1h-1zM159.84,237.35h1v1h-1zM168.33,235.03h1v1h-1zM183.06,240.18h1v1h-1zM162.6,238.38h1v1h-1zM177.33,232.84h1v1h-1zM179.02,231.34h1v1h-1zM179.99,236.53h1v1h-1zM161.42,235.07h1v1h-1zM184.12,232.62h1v1h-1zM168.93,227.09h1v1h-1zM165.97,225.67h1v1h-1zM166.16,234.39h1v1h-1zM172.81,236.08h1v1h-1zM168.41,236.21h1v1h-1zM166.58,227.85h1v1h-1zM178.27,237.15h1v1h-1zM162.22,230.86h1v1h-1zM159.65,234.55h1v1h-1zM174.34,234.67h1v1h-1zM173.63,229.79h1v1h-1zM176.75,230.63h1v1h-1zM159.42,224.71h1v1h-1zM176.65,229.33h1v1h-1zM171.86,225.79h1v1h-1zM182.1,234.75h1v1h-1zM158.01,233.25h1v1h-1zM169.75,236.66h1v1h-1zM165.78,234.43h1v1h-1zM155.28,230.46h1v1h-1zM162.28,234.38h1v1h-1zM177.02,231.44h1v1h-1zM164.25,235.44h1v1h-1zM162.22,234.26h1v1h-1zM174.95,229.05h1v1h-1zM175.91,233.01h1v1h-1zM175.89,233.22h1v1h-1zM161.68,231.77h1v1h-1zM167.54,236.58h1v1h-1zM176.25,239.85h1v1h-1zM162.75,231.53h1v1h-1zM162.01,231.6h1v1h-1zM174.63,224.01h1v1h-1zM180.5,232.48h1v1h-1zM158.78,231.26h1v1h-1zM147.22,224.36h1v1h-1zM156.4,234.15h1v1h-1zM159.9,235.36h1v1h-1zM166.9,230.06h1v1h-1zM172.93,231.51h1v1h-1zM166.83,229.13h1v1h-1zM162.4,236.05h1v1h-1zM169.23,226.93h1v1h-1zM160.31,231.75h1v1h-1zM167.62,240.8h1v1h-1zM162.87,233.21h1v1h-1zM174.53,232.41h1v1h-1zM161.32,228.3h1v1h-1zM160.02,232.87h1v1h-1zM164.49,234.63h1v1h-1zM154.84,228.91h1v1h-1zM162.16,234.37h1v1h-1zM162.09,237.98h1v1h-1zM175.07,237.28h1v1h-1zM164.59,226.67h1v1h-1zM161.68,229.1h1v1h-1zM157.28,226.55h1v1h-1zM158.59,237.28h1v1h-1zM167.47,235.44h1v1h-1zM166.28,235.81h1v1h-1zM177.07,229.49h1v1h-1zM162.97,228.33h1v1h-1zM176.47,233.31h1v1h-1zM170.06,233.4h1v1h-1zM167.96,229.58h1v1h-1zM151.93,233.57h1v1h-1zM157.68,235.58h1v1h-1zM173.93,233.91h1v1h-1zM179.18,228.84h1v1h-1zM169.65,224.55h1v1h-1zM174.1,231.96h1v1h-1zM164.74,233.66h1v1h-1zM165.03,231.96h1v1h-1zM162.7,231.29h1v1h-1zM175.8,230.23h1v1h-1zM170.74,235.86h1v1h-1zM166.13,232.79h1v1h-1zM165.37,233.49h1v1h-1zM172.45,229.11h1v1h-1zM170.58,230.52h1v1h-1zM161.34,233.66h1v1h-1zM181.73,228.98h1v1h-1zM170.06,227.96h1v1h-1zM168.08,231.68h1v1h-1zM179.82,237.8h1v1h-1zM176.19,233.76h1v1h-1zM167.3,238.84h1v1h-1zM172.29,232.47h1v1h-1zM159.44,231.76h1v1h-1zM162.87,227.43h1v1h-1zM149.92,230.7h1v1h-1zM177.76,238.74h1v1h-1zM152.81,234.31h1v1h-1zM173.45,235.93h1v1h-1zM161.35,235.82h1v1h-1zM160.17,232.96h1v1h-1zM166.44,232.18h1v1h-1zM170.13,233.48h1v1h-1zM172.9,235.69h1v1h-1zM182.17,234.83h1v1h-1zM170.87,234.97h1v1h-1zM175.05,233.62h1v1h-1zM163.21,229.92h1v1h-1zM173.71,231.95h1v1h-1zM169.23,229.23h1v1h-1zM164.29,237.02h1v1h-1zM167.23,224.59h1v1h-1zM167.5,232.13h1v1h-1zM169.53,242.55h1v1h-1zM171.21,231.63h1v1h-1zM163.93,228.46h1v1h-1zM162.07,232.93h1v1h-1zM173.98,238.16h1v1h-1zM154.43,232.36h1v1h-1zM163.05,235.45h1v1h-1zM180.42,233.4h1v1h-1zM146.34,231.51h1v1h-1zM162.46,245.6h1v1h-1zM173.5,233.28h1v1h-1zM154.8,230.85h1v1h-1zM147.29,234.52h1v1h-1zM179.49,234.64h1v1h-1zM180.46,236.09h1v1h-1zM175.33,233.56h1v1h-1zM166.23,227.27h1v1h-1zM170.86,235.13h1v1h-1zM160.82,231.76h1v1h-1zM174.47,231.86h1v1h-1zM159.04,227.07h1v1h-1zM165.81,230.71h1v1h-1zM175.97,230.09h1v1h-1zM159.09,232.85h1v1h-1zM165.09,227.19h1v1h-1zM169.31,233.2h1v1h-1zM157.27,233.5h1v1h-1zM177.31,228.52h1v1h-1zM170.73,230.5h1v1h-1zM155.88,229.57h1v1h-1zM167.62,236.63h1v1h-1zM162.74,231.63h1v1h-1zM168.61,226.36h1v1h-1zM162.32,231.27h1v1h-1zM175.72,236.39h1v1h-1zM162.36,230.48h1v1h-1zM175.85,233.55h1v1h-1zM167.65,229.62h1v1h-1zM174.85,240.76h1v1h-1zM163.67,236.65h1v1h-1zM163.96,237.51h1v1h-1zM158.78,227.69h1v1h-1zM172.62,228.6h1v1h-1zM175.5,237.32h1v1h-1zM184.95,232.22h1v1h-1zM178.32,231.97h1v1h-1zM170,234.34h1v1h-1zM166.31,227.98h1v1h-1zM171.11,236.09h1v1h-1zM167.78,233.07h1v1h-1zM179.71,234.92h1v1h-1zM175.55,230.32h1v1h-1zM161.31,235.05h1v1h-1zM162.5,230.18h1v1h-1zM178.94,236.82h1v1h-1zM170.46,237.52h1v1h-1zM166.15,236.65h1v1h-1zM177.49,235.07h1v1h-1zM164.9,235.54h1v1h-1zM164.31,236.34h1v1h-1zM152.31,231.9h1v1h-1zM174.91,233.38h1v1h-1zM158.33,231.87h1v1h-1zM163.45,227.44h1v1h-1zM162.05,230.85h1v1h-1zM173.82,235.63h1v1h-1zM167.45,238.67h1v1h-1zM168.12,230.51h1v1h-1zM154.56,229.38h1v1h-1zM167.3,238.81h1v1h-1zM156.19,229.47h1v1h-1zM170.46,241.29h1v1h-1zM170.93,233.2h1v1h-1zM167.86,229.47h1v1h-1zM184.35,236.94h1v1h-1zM172.22,239.77h1v1h-1zM172.77,227.26h1v1h-1zM169.14,239.24h1v1h-1zM166.46,231.87h1v1h-1zM175.73,238.95h1v1h-1zM176.81,231.48h1v1h-1zM157.59,226.69h1v1h-1zM176.44,235.01h1v1h-1zM172.11,236.71h1v1h-1zM175.69,241.38h1v1h-1zM171.73,239.89h1v1h-1zM158.05,235.78h1v1h-1zM158.62,232.05h1v1h-1zM182.6,230.92h1v1h-1zM170.02,231.82h1v1h-1zM156.66,229.68h1v1h-1zM170.79,231.9h1v1h-1zM153.25,233.72h1v1h-1zM149.68,232.88h1v1h-1zM155.18,243.26h1v1h-1zM170.17,236.03h1v1h-1zM167.62,231.08h1v1h-1zM166.01,235.26h1v1h-1zM170.28,228.1h1v1h-1zM172.81,230.59h1v1h-1zM151.18,225.53h1v1h-1zM165.59,238.75h1v1h-1zM161.38,235.37h1v1h-1zM158.13,228.3h1v1h-1zM163.62,232.76h1v1h-1zM167.02,236.8h1v1h-1zM165.87,234.98h1v1h-1zM156.36,234.53h1v1h-1zM164.13,229.57h1v1h-1zM184.13,230.45h1v1h-1zM159.56,233.38h1v1h-1zM154.5,236.68h1v1h-1zM170.2,229.68h1v1h-1zM172.77,228.51h1v1h-1zM171.71,237.58h1v1h-1zM159.04,229.28h1v1h-1zM175.98,237.31h1v1h-1zM161.72,233.97h1v1h-1zM158.92,236.52h1v1h-1zM163.13,239.98h1v1h-1zM167.13,235.75h1v1h-1zM173.71,236.1h1v1h-1zM172.99,229.33h1v1h-1zM167.82,230.22h1v1h-1zM175.46,235.58h1v1h-1zM168.65,239.14h1v1h-1zM175.17,238.57h1v1h-1zM156.77,242.27h1v1h-1zM155.41,234.24h1v1h-1zM174.21,233.81h1v1h-1zM156.88,237.02h1v1h-1zM165.59,233.08h1v1h-1zM167.22,232.75h1v1h-1zM164.1,228.81h1v1h-1zM164.37,236.96h1v1h-1zM179.14,228.71h1v1h-1zM147.76,235.05h1v1h-1zM175.07,227.32h1v1h-1zM186.36,237.39h1v1h-1zM168.19,228.88h1v1h-1zM167.85,236.37h1v1h-1zM173.81,226.64h1v1h-1zM182.63,231.24h1v1h-1zM158.5,237.71h1v1h-1zM168.7,229.78h1v1h-1zM166.51,233.27h1v1h-1zM172.48,231.09h1v1h-1zM169.27,223.76h1v1h-1zM173.28,234.23h1v1h-1zM164.63,234.73h1v1h-1zM168.39,228.57h1v1h-1zM162.64,235.29h1v1h-1zM162.69,229.82h1v1h-1zM166.87,228.99h1v1h-1zM166.86,233.03h1v1h-1zM158.62,230.27h1v1h-1zM180.56,242.17h1v1h-1zM166.92,226.78h1v1h-1zM156.93,235.95h1v1h-1zM176.81,236.96h1v1h-1zM162.01,225.08h1v1h-1zM172.07,226.07h1v1h-1zM167.86,235.25h1v1h-1zM170,231.07h1v1h-1zM169.37,234.53h1v1h-1zM163.4,237.56h1v1h-1zM168.33,231.51h1v1h-1zM184.26,228.74h1v1h-1zM168.53,233.82h1v1h-1zM171.48,229.29h1v1h-1zM159.58,234.25h1v1h-1zM157.04,233.93h1v1h-1zM185.27,227.46h1v1h-1zM165.03,239.9h1v1h-1zM184.63,237.33h1v1h-1zM172.29,236.39h1v1h-1zM168.61,228.26h1v1h-1zM171.81,231.37h1v1h-1zM173.08,230.81h1v1h-1zM177.44,231.34h1v1h-1zM171.49,228.5h1v1h-1zM169.16,234.74h1v1h-1zM169.41,233.92h1v1h-1zM178.82,234.46h1v1h-1zM174.54,230.98h1v1h-1zM159.98,238.16h1v1h-1zM162.91,233.75h1v1h-1zM163.02,230.44h1v1h-1zM164.99,232.77h1v1h-1zM160.35,236.86h1v1h-1zM165.91,231.8h1v1h-1zM171.39,232h1v1h-1zM175.96,230.35h1v1h-1zM168.07,235.66h1v1h-1zM184.6,231.21h1v1h-1zM167.39,230.59h1v1h-1zM176.01,235.23h1v1h-1zM171.97,230.87h1v1h-1zM164.01,226.3h1v1h-1zM145.4,235.49h1v1h-1zM166.76,230.19h1v1h-1zM169.43,234.43h1v1h-1zM183.38,234.5h1v1h-1zM156.96,237.81h1v1h-1zM183.25,237.18h1v1h-1zM165.99,230.7h1v1h-1zM173.79,232.33h1v1h-1zM147.68,227.84h1v1h-1zM169.11,239.71h1v1h-1zM165.25,234.77h1v1h-1zM173.46,238.58h1v1h-1zM168.73,231.72h1v1h-1zM158.86,224.8h1v1h-1zM175.58,239.13h1v1h-1zM173.56,233.37h1v1h-1zM172.77,233.53h1v1h-1zM176.07,233.22h1v1h-1zM176.81,235.58h1v1h-1zM167.83,235.13h1v1h-1zM157.14,226.64h1v1h-1zM156.92,237.35h1v1h-1zM178.8,230.88h1v1h-1zM173.68,231.13h1v1h-1zM168.82,239.91h1v1h-1zM164.52,236.68h1v1h-1zM168.25,231.65h1v1h-1zM168.2,225.57h1v1h-1zM165.31,233.65h1v1h-1zM162.41,235.15h1v1h-1zM185.31,232.68h1v1h-1zM169.83,228.02h1v1h-1zM163.15,229.84h1v1h-1zM157.58,227.98h1v1h-1zM162.19,233.86h1v1h-1zM173.76,236.28h1v1h-1zM174.07,237.1h1v1h-1zM166.25,230.07h1v1h-1zM168.41,233.94h1v1h-1zM165.56,235.22h1v1h-1zM159.14,230.96h1v1h-1zM178.41,232.41h1v1h-1zM170.98,241.5h1v1h-1zM161.95,236.53h1v1h-1zM166.9,231.26h1v1h-1zM175.06,233.17h1v1h-1zM166.04,226.14h1v1h-1zM156.9,232.9h1v1h-1zM160.41,237.77h1v1h-1zM168.81,241.4h1v1h-1zM170.75,237.79h1v1h-1zM167.24,235.75h1v1h-1zM176.03,233.21h1v1h-1zM175.94,230.6h1v1h-1zM170.58,232.36h1v1h-1zM168.22,235.45h1v1h-1zM165.98,229.86h1v1h-1zM172.41,236.73h1v1h-1zM175.36,229.06h1v1h-1zM168.48,225.88h1v1h-1zM171.6,228.95h1v1h-1zM165.41,226.34h1v1h-1zM156.71,227.51h1v1h-1zM159.99,237.53h1v1h-1zM174.13,232.2h1v1h-1zM171.58,233.87h1v1h-1zM180.72,237.63h1v1h-1zM168.45,238.04h1v1h-1zM174.92,230.98h1v1h-1zM178.58,238.31h1v1h-1zM175.96,234.54h1v1h-1zM163.13,233.01h1v1h-1zM166.52,234.77h1v1h-1zM169.04,227.3h1v1h-1zM160.11,229.86h1v1h-1zM171.79,232.57h1v1h-1zM176.19,235.44h1v1h-1zM164.15,231.51h1v1h-1zM183.78,232.49h1v1h-1zM165.67,236.88h1v1h-1zM166.38,238.65h1v1h-1zM166.09,236.07h1v1h-1zM162.33,238.07h1v1h-1zM171.34,231.38h1v1h-1zM168.16,231.77h1v1h-1zM181.29,234.27h1v1h-1zM172.86,231.8h1v1h-1zM172.3,230.97h1v1h-1zM166.23,239.61h1v1h-1zM156.69,232.2h1v1h-1zM167.28,229.14h1v1h-1zM161.2,234.95h1v1h-1zM175.61,240.34h1v1h-1zM167.76,233.32h1v1h-1zM181.33,237.93h1v1h-1zM173.88,231.25h1v1h-1zM174.68,231.03h1v1h-1zM169.85,230.24h1v1h-1zM169.67,232.43h1v1h-1zM173.23,240.35h1v1h-1zM175.38,228.38h1v1h-1zM162.32,239.55h1v1h-1zM171.94,228.97h1v1h-1zM167.28,236.34h1v1h-1zM165.96,235.52h1v1h-1zM162.46,234.13h1v1h-1zM156.41,226.4h1v1h-1zM177.51,234.45h1v1h-1zM168.49,228.91h1v1h-1zM170.4,243.28h1v1h-1zM182.76,232.15h1v1h-1zM160.89,228.41h1v1h-1zM176.44,231.08h1v1h-1zM172.99,227.84h1v1h-1zM171.2,236.93h1v1h-1zM171.84,231.95h1v1h-1zM167.83,235.25h1v1h-1zM180.73,230.26h1v1h-1zM172.93,231h1v1h-1zM170.78,238.15h1v1h-1zM178,229.11h1v1h-1zM175.19,225.79h1v1h-1zM171.7,234.62h1v1h-1zM170.64,228.43h1v1h-1zM182.07,231.24h1v1h-1zM172.1,236.65h1v1h-1zM167.3,229.73h1v1h-1zM161.17,236.51h1v1h-1zM165.27,230.28h1v1h-1zM159.62,238.96h1v1h-1zM168.88,238.3h1v1h-1zM170.08,231.11h1v1h-1zM151.62,232.15h1v1h-1zM168.17,229.67h1v1h-1zM173.22,233.8h1v1h-1zM169.35,237.6h1v1h-1zM160.38,227.21h1v1h-1zM178.17,236.67h1v1h-1zM162.45,227.7h1v1h-1zM158.19,229.56h1v1h-1zM159.37,225.85h1v1h-1zM167.9,241.42h1v1h-1zM175.88,233.23h1v1h-1zM177.34,233.98h1v1h-1zM169.7,230.3h1v1h-1zM158.47,237.27h1v1h-1zM162.76,224.59h1v1h-1zM160.83,233.11h1v1h-1zM166.59,241.83h1v1h-1zM153.82,231.47h1v1h-1zM168.9,233.07h1v1h-1zM173.17,235.69h1v1h-1zM166.82,229.75h1v1h-1zM171.69,233.09h1v1h-1zM160.5,236.84h1v1h-1zM156.37,233.78h1v1h-1zM162.91,234.48h1v1h-1zM177.26,231.6h1v1h-1zM176.25,234.26h1v1h-1zM164.35,233.22h1v1h-1zM177.64,238.82h1v1h-1zM165.41,235.9h1v1h-1zM180.1,232.03h1v1h-1z" fill="#e63c14" fill-opacity="1"/><path d="M161.61,234.15h0.9v0.9h-0.9zM145.17,250.98h0.9v0.9h-0.9zM167.43,248.96h0.9v0.9h-0.9zM151.17,241.24h0.9v0.9h-0.9zM170.49,237.99h0.9v0.9h-0.9zM175.71,226.87h0.9v0.9h-0.9zM161.81,236.1h0.9v0.9h-0.9zM148.92,237.56h0.9v0.9h-0.9zM139.67,230.92h0.9v0.9h-0.9zM149.97,235.47h0.9v0.9h-0.9zM155.15,233.92h0.9v0.9h-0.9zM171.44,238.41h0.9v0.9h-0.9zM138.22,248.4h0.9v0.9h-0.9zM171.66,238.82h0.9v0.9h-0.9zM165.77,226.86h0.9v0.9h-0.9zM157.83,228.45h0.9v0.9h-0.9zM142.72,240.59h0.9v0.9h-0.9zM164.95,239.17h0.9v0.9h-0.9zM162.99,230.19h0.9v0.9h-0.9zM167.51,237.96h0.9v0.9h-0.9zM178.31,227.85h0.9v0.9h-0.9zM140.51,248.33h0.9v0.9h-0.9zM143.14,223.52h0.9v0.9h-0.9zM153.12,246.73h0.9v0.9h-0.9zM149.49,247.49h0.9v0.9h-0.9zM167.02,233.93h0.9v0.9h-0.9zM153.87,235.12h0.9v0.9h-0.9zM180.62,230.05h0.9v0.9h-0.9zM177.77,235.33h0.9v0.9h-0.9zM168.01,241.47h0.9v0.9h-0.9zM152.98,235.63h0.9v0.9h-0.9zM166.02,244.5h0.9v0.9h-0.9zM168.54,246.2h0.9v0.9h-0.9zM144.13,238.63h0.9v0.9h-0.9zM162.53,238.48h0.9v0.9h-0.9zM167.18,234.99h0.9v0.9h-0.9zM160.81,238.65h0.9v0.9h-0.9zM178.42,225.53h0.9v0.9h-0.9zM173.78,239.18h0.9v0.9h-0.9zM147.27,237.38h0.9v0.9h-0.9zM159.62,227.79h0.9v0.9h-0.9zM147.14,254.86h0.9v0.9h-0.9zM165.53,226.8h0.9v0.9h-0.9zM146.73,227.73h0.9v0.9h-0.9zM170,238.03h0.9v0.9h-0.9zM170.62,228.42h0.9v0.9h-0.9zM139.07,226.85h0.9v0.9h-0.9zM180.96,234.33h0.9v0.9h-0.9zM155.76,238.39h0.9v0.9h-0.9zM175.9,245.44h0.9v0.9h-0.9zM163.59,242.76h0.9v0.9h-0.9zM166.76,246.16h0.9v0.9h-0.9zM181.79,240.81h0.9v0.9h-0.9zM162.42,231.31h0.9v0.9h-0.9zM176.2,245.54h0.9v0.9h-0.9zM138.7,231.13h0.9v0.9h-0.9zM169.32,230h0.9v0.9h-0.9zM154.86,249.25h0.9v0.9h-0.9zM156.26,242.59h0.9v0.9h-0.9zM158.11,237.48h0.9v0.9h-0.9zM162.5,242.27h0.9v0.9h-0.9zM179.54,243.41h0.9v0.9h-0.9zM158.57,234.66h0.9v0.9h-0.9zM148.69,224.91h0.9v0.9h-0.9zM173.16,236.6h0.9v0.9h-0.9zM152.5,229.47h0.9v0.9h-0.9zM163.94,247.72h0.9v0.9h-0.9zM152.83,240.17h0.9v0.9h-0.9zM166.68,228.21h0.9v0.9h-0.9zM171.19,235.34h0.9v0.9h-0.9zM152.83,224.61h0.9v0.9h-0.9zM158.64,235.87h0.9v0.9h-0.9zM139.54,240.42h0.9v0.9h-0.9zM161.97,237.87h0.9v0.9h-0.9zM150.78,232.48h0.9v0.9h-0.9zM172.56,240.07h0.9v0.9h-0.9zM139.95,223.93h0.9v0.9h-0.9zM151.7,240.2h0.9v0.9h-0.9zM158.24,229.64h0.9v0.9h-0.9zM156.97,237.25h0.9v0.9h-0.9zM157.13,239.14h0.9v0.9h-0.9zM167.41,241.67h0.9v0.9h-0.9zM151.86,230.3h0.9v0.9h-0.9zM141.57,237.15h0.9v0.9h-0.9zM141.83,224.98h0.9v0.9h-0.9zM155.71,235h0.9v0.9h-0.9zM164.28,227.84h0.9v0.9h-0.9zM147.22,235.65h0.9v0.9h-0.9zM158.03,249.47h0.9v0.9h-0.9zM169.23,244.88h0.9v0.9h-0.9zM173.71,242.66h0.9v0.9h-0.9zM167.89,234.6h0.9v0.9h-0.9zM161.28,239.77h0.9v0.9h-0.9zM172.36,239.02h0.9v0.9h-0.9zM176.08,239.22h0.9v0.9h-0.9zM153.54,233.38h0.9v0.9h-0.9zM139.16,251.29h0.9v0.9h-0.9zM163.15,248.76h0.9v0.9h-0.9zM181.1,234.63h0.9v0.9h-0.9zM166.91,226.66h0.9v0.9h-0.9zM160.99,253.95h0.9v0.9h-0.9zM144.48,246.24h0.9v0.9h-0.9zM169.74,252.65h0.9v0.9h-0.9zM150.58,226.99h0.9v0.9h-0.9zM158.65,238.09h0.9v0.9h-0.9zM159.17,232.35h0.9v0.9h-0.9zM177.69,240.11h0.9v0.9h-0.9zM145.83,238.36h0.9v0.9h-0.9zM151.04,252.98h0.9v0.9h-0.9zM164.33,235.4h0.9v0.9h-0.9zM152.04,245.6h0.9v0.9h-0.9zM163.49,233.03h0.9v0.9h-0.9zM144.05,232.19h0.9v0.9h-0.9zM153.33,255.62h0.9v0.9h-0.9zM171.51,228.09h0.9v0.9h-0.9zM155.73,231.07h0.9v0.9h-0.9zM166.13,235.87h0.9v0.9h-0.9zM164.87,225.96h0.9v0.9h-0.9zM137.72,244.97h0.9v0.9h-0.9zM170.81,228.41h0.9v0.9h-0.9zM160.22,230.6h0.9v0.9h-0.9zM170.78,232.12h0.9v0.9h-0.9zM146.6,257.05h0.9v0.9h-0.9zM171.55,242.1h0.9v0.9h-0.9zM165.36,242.19h0.9v0.9h-0.9zM159.71,235.25h0.9v0.9h-0.9zM167.89,224.82h0.9v0.9h-0.9zM154.07,242.42h0.9v0.9h-0.9zM163.15,233.42h0.9v0.9h-0.9zM159.82,235.81h0.9v0.9h-0.9zM153,230.22h0.9v0.9h-0.9zM152.85,240.69h0.9v0.9h-0.9zM150.11,224.84h0.9v0.9h-0.9zM151.7,232.79h0.9v0.9h-0.9zM172.61,229.11h0.9v0.9h-0.9zM154.51,237.82h0.9v0.9h-0.9zM144.71,244.56h0.9v0.9h-0.9zM150.55,237.24h0.9v0.9h-0.9zM167.21,238.77h0.9v0.9h-0.9zM169.07,224.37h0.9v0.9h-0.9zM163.97,235.51h0.9v0.9h-0.9zM147.81,231.98h0.9v0.9h-0.9zM167.55,240.72h0.9v0.9h-0.9zM139.28,234.82h0.9v0.9h-0.9zM143.55,253.09h0.9v0.9h-0.9zM169.42,243.28h0.9v0.9h-0.9zM140.66,248.49h0.9v0.9h-0.9zM143.03,236.39h0.9v0.9h-0.9zM160.54,225.34h0.9v0.9h-0.9zM153.58,241.87h0.9v0.9h-0.9zM169.21,244.1h0.9v0.9h-0.9zM148.75,228.89h0.9v0.9h-0.9zM141.24,233.05h0.9v0.9h-0.9zM151.45,237.82h0.9v0.9h-0.9zM145.86,232.32h0.9v0.9h-0.9zM161.56,250.03h0.9v0.9h-0.9zM181.55,255.14h0.9v0.9h-0.9zM150.35,234.5h0.9v0.9h-0.9zM158.47,251.95h0.9v0.9h-0.9zM175.46,230.74h0.9v0.9h-0.9zM149.45,228.18h0.9v0.9h-0.9zM143.63,244.08h0.9v0.9h-0.9zM163.01,232.1h0.9v0.9h-0.9zM164.51,256.53h0.9v0.9h-0.9zM155.88,238.46h0.9v0.9h-0.9zM158.35,237.17h0.9v0.9h-0.9zM169.05,248.98h0.9v0.9h-0.9zM139.54,232.21h0.9v0.9h-0.9zM157.62,234.03h0.9v0.9h-0.9zM167.07,243.82h0.9v0.9h-0.9zM154.8,244.38h0.9v0.9h-0.9zM149.3,230.03h0.9v0.9h-0.9zM151.72,236.32h0.9v0.9h-0.9zM157.32,244.15h0.9v0.9h-0.9zM149.89,236.43h0.9v0.9h-0.9zM163.7,250.99h0.9v0.9h-0.9zM144.28,233.31h0.9v0.9h-0.9zM151.94,230.03h0.9v0.9h-0.9zM144.88,231.29h0.9v0.9h-0.9zM166.68,228.23h0.9v0.9h-0.9zM151.52,244.56h0.9v0.9h-0.9zM163.33,237.88h0.9v0.9h-0.9zM143,228.13h0.9v0.9h-0.9zM158.8,238.65h0.9v0.9h-0.9zM151.3,232.94h0.9v0.9h-0.9zM150.97,240.23h0.9v0.9h-0.9zM165.07,241.79h0.9v0.9h-0.9zM159.83,228.54h0.9v0.9h-0.9zM155.2,243.72h0.9v0.9h-0.9zM168.36,252.34h0.9v0.9h-0.9zM159.95,231.67h0.9v0.9h-0.9zM164.45,242.18h0.9v0.9h-0.9zM153.63,241.03h0.9v0.9h-0.9zM161.69,235.91h0.9v0.9h-0.9zM152.02,237.32h0.9v0.9h-0.9zM162.46,230.27h0.9v0.9h-0.9zM171.82,232.88h0.9v0.9h-0.9zM168.52,242.82h0.9v0.9h-0.9zM152.46,250.99h0.9v0.9h-0.9zM140.73,233.58h0.9v0.9h-0.9zM155.78,247h0.9v0.9h-0.9zM171.76,240.96h0.9v0.9h-0.9zM152.44,241.67h0.9v0.9h-0.9zM154.69,237.17h0.9v0.9h-0.9zM166.94,256.45h0.9v0.9h-0.9zM151.2,236.22h0.9v0.9h-0.9zM150.69,244.38h0.9v0.9h-0.9zM147.14,265.16h0.9v0.9h-0.9zM149.05,237.92h0.9v0.9h-0.9zM148.89,246.49h0.9v0.9h-0.9zM149.88,258.13h0.9v0.9h-0.9zM150.45,242.45h0.9v0.9h-0.9zM148.8,269.98h0.9v0.9h-0.9zM152.52,265.5h0.9v0.9h-0.9zM148.32,248.84h0.9v0.9h-0.9zM149.25,248.97h0.9v0.9h-0.9zM150.28,241.31h0.9v0.9h-0.9zM148.05,240.49h0.9v0.9h-0.9zM150.78,258.98h0.9v0.9h-0.9zM150.87,260.79h0.9v0.9h-0.9zM149.48,258.06h0.9v0.9h-0.9zM152.79,257.2h0.9v0.9h-0.9zM150.05,248.92h0.9v0.9h-0.9zM150.35,258.15h0.9v0.9h-0.9zM148.48,239.77h0.9v0.9h-0.9zM147.41,254.62h0.9v0.9h-0.9zM148.98,269.33h0.9v0.9h-0.9zM149.44,267.81h0.9v0.9h-0.9zM149.24,249.89h0.9v0.9h-0.9zM151.08,251.19h0.9v0.9h-0.9zM146.34,268.36h0.9v0.9h-0.9zM147.18,239.52h0.9v0.9h-0.9zM151.94,250.26h0.9v0.9h-0.9zM149.08,256.89h0.9v0.9h-0.9zM149.15,266.77h0.9v0.9h-0.9zM148.27,246.13h0.9v0.9h-0.9zM151.27,260.99h0.9v0.9h-0.9zM149.31,251.53h0.9v0.9h-0.9zM146.87,258.86h0.9v0.9h-0.9zM151.68,253.19h0.9v0.9h-0.9zM150.52,251.18h0.9v0.9h-0.9zM150.75,265.14h0.9v0.9h-0.9zM151.78,261.36h0.9v0.9h-0.9zM149.63,243.68h0.9v0.9h-0.9zM149.67,256.73h0.9v0.9h-0.9zM151,241.11h0.9v0.9h-0.9zM150.57,246.96h0.9v0.9h-0.9zM149.56,241.55h0.9v0.9h-0.9zM149.99,241.24h0.9v0.9h-0.9zM149.17,247.65h0.9v0.9h-0.9zM151,244.71h0.9v0.9h-0.9zM151.33,259.85h0.9v0.9h-0.9zM149.93,262.55h0.9v0.9h-0.9zM152.75,252.15h0.9v0.9h-0.9zM147.62,243.31h0.9v0.9h-0.9zM149.58,262.63h0.9v0.9h-0.9zM152.5,234.23h0.9v0.9h-0.9zM149.29,235.16h0.9v0.9h-0.9zM147.52,261.86h0.9v0.9h-0.9zM152.02,261.14h0.9v0.9h-0.9zM150.75,264.34h0.9v0.9h-0.9zM148.13,252.39h0.9v0.9h-0.9zM151.09,241.89h0.9v0.9h-0.9zM148.39,249.44h0.9v0.9h-0.9zM147.91,260.25h0.9v0.9h-0.9zM149.7,246.85h0.9v0.9h-0.9zM149.21,247.5h0.9v0.9h-0.9zM148.28,240.55h0.9v0.9h-0.9zM149.38,242.87h0.9v0.9h-0.9zM148.42,263.02h0.9v0.9h-0.9zM150.02,259.12h0.9v0.9h-0.9zM149.89,242.89h0.9v0.9h-0.9zM151.05,243.7h0.9v0.9h-0.9zM149.24,248.91h0.9v0.9h-0.9zM147.93,260.06h0.9v0.9h-0.9zM147.94,242.82h0.9v0.9h-0.9zM149.56,252.86h0.9v0.9h-0.9zM152.24,233.01h0.9v0.9h-0.9zM151.2,241.93h0.9v0.9h-0.9zM148.96,258.78h0.9v0.9h-0.9zM151.35,263.57h0.9v0.9h-0.9zM148.18,242.94h0.9v0.9h-0.9zM151.45,246.79h0.9v0.9h-0.9zM149.35,262.57h0.9v0.9h-0.9zM151.09,250.64h0.9v0.9h-0.9zM150.87,249.12h0.9v0.9h-0.9zM149.51,259.77h0.9v0.9h-0.9zM150.42,256.52h0.9v0.9h-0.9zM148.32,265.72h0.9v0.9h-0.9zM149.82,262.53h0.9v0.9h-0.9zM151.56,248.78h0.9v0.9h-0.9zM156.09,253.37h0.9v0.9h-0.9zM150.99,253.96h0.9v0.9h-0.9zM150.06,240.94h0.9v0.9h-0.9zM176.16,235.08h0.9v0.9h-0.9zM179.68,253.72h0.9v0.9h-0.9zM175.05,259.23h0.9v0.9h-0.9zM179.72,260.18h0.9v0.9h-0.9zM178.44,257.35h0.9v0.9h-0.9zM177.67,249.32h0.9v0.9h-0.9zM178.9,270.22h0.9v0.9h-0.9zM178.78,250.76h0.9v0.9h-0.9zM180.11,263.15h0.9v0.9h-0.9zM177.2,254.16h0.9v0.9h-0.9zM177.51,245.96h0.9v0.9h-0.9zM177.48,269.49h0.9v0.9h-0.9zM181.32,234.14h0.9v0.9h-0.9zM179.63,249.08h0.9v0.9h-0.9zM176.25,260.66h0.9v0.9h-0.9zM177.32,253.55h0.9v0.9h-0.9zM176.65,263.53h0.9v0.9h-0.9zM177.95,255.87h0.9v0.9h-0.9zM178.31,252.69h0.9v0.9h-0.9zM174.63,254.8h0.9v0.9h-0.9zM179.78,255.36h0.9v0.9h-0.9zM178.72,247.03h0.9v0.9h-0.9zM176.66,250.05h0.9v0.9h-0.9zM177.66,262.64h0.9v0.9h-0.9zM177.03,261.87h0.9v0.9h-0.9zM178.02,256.82h0.9v0.9h-0.9zM179.75,250.5h0.9v0.9h-0.9zM175.19,262.99h0.9v0.9h-0.9zM180.3,241.47h0.9v0.9h-0.9zM177.26,253.74h0.9v0.9h-0.9zM180.64,254.55h0.9v0.9h-0.9zM178.67,249.2h0.9v0.9h-0.9zM180.16,258.2h0.9v0.9h-0.9zM178.95,250.82h0.9v0.9h-0.9zM179.89,249.6h0.9v0.9h-0.9zM176.43,263.52h0.9v0.9h-0.9zM179.15,267.65h0.9v0.9h-0.9zM179.22,257.32h0.9v0.9h-0.9zM181.72,265.55h0.9v0.9h-0.9zM174.32,263.9h0.9v0.9h-0.9zM177.58,267.8h0.9v0.9h-0.9zM175.68,254.85h0.9v0.9h-0.9zM177.53,259.23h0.9v0.9h-0.9zM181.76,256.44h0.9v0.9h-0.9zM180.49,225.26h0.9v0.9h-0.9zM176.35,244.34h0.9v0.9h-0.9zM180.51,257.08h0.9v0.9h-0.9zM180.08,262.62h0.9v0.9h-0.9zM179.34,251.74h0.9v0.9h-0.9zM178.63,267.15h0.9v0.9h-0.9zM178.37,268.49h0.9v0.9h-0.9zM176.37,253.22h0.9v0.9h-0.9zM177.01,269.76h0.9v0.9h-0.9zM178.2,261.13h0.9v0.9h-0.9zM181.28,248.12h0.9v0.9h-0.9zM177.34,270.18h0.9v0.9h-0.9zM161.02,267.11h0.9v0.9h-0.9zM166.64,245.58h0.9v0.9h-0.9zM167.81,249.88h0.9v0.9h-0.9zM168.57,233.36h0.9v0.9h-0.9zM145.28,224.59h0.9v0.9h-0.9zM178.77,224.15h0.9v0.9h-0.9zM150.58,251.51h0.9v0.9h-0.9zM162.48,266.38h0.9v0.9h-0.9zM148.45,229.36h0.9v0.9h-0.9zM145.86,247.4h0.9v0.9h-0.9zM152.28,245.41h0.9v0.9h-0.9zM171.7,239.11h0.9v0.9h-0.9zM170.6,224.93h0.9v0.9h-0.9zM164.73,266.64h0.9v0.9h-0.9zM183.77,250.87h0.9v0.9h-0.9zM186.17,235.07h0.9v0.9h-0.9zM152.59,245.06h0.9v0.9h-0.9zM162.94,262.53h0.9v0.9h-0.9zM159.92,226.26h0.9v0.9h-0.9zM172.31,234.47h0.9v0.9h-0.9zM181.21,233.97h0.9v0.9h-0.9zM152.49,230.45h0.9v0.9h-0.9zM152.84,252.25h0.9v0.9h-0.9zM151.1,226.29h0.9v0.9h-0.9zM166.73,258.54h0.9v0.9h-0.9zM143.34,243.94h0.9v0.9h-0.9zM141.34,224.79h0.9v0.9h-0.9zM156.35,237.46h0.9v0.9h-0.9zM180.88,224.65h0.9v0.9h-0.9zM169.67,258.48h0.9v0.9h-0.9zM158.43,247.54h0.9v0.9h-0.9zM150.11,235.86h0.9v0.9h-0.9zM140.59,266.58h0.9v0.9h-0.9zM139.4,230.45h0.9v0.9h-0.9zM173.47,245.5h0.9v0.9h-0.9zM163.1,237.84h0.9v0.9h-0.9zM145.89,261.56h0.9v0.9h-0.9zM144.05,237.9h0.9v0.9h-0.9zM174.82,238.01h0.9v0.9h-0.9zM184.61,232.24h0.9v0.9h-0.9zM163.86,249.28h0.9v0.9h-0.9zM162.54,260.39h0.9v0.9h-0.9zM140.24,249.63h0.9v0.9h-0.9zM176.71,226.38h0.9v0.9h-0.9zM164.76,244.7h0.9v0.9h-0.9zM157.81,249.29h0.9v0.9h-0.9zM168.61,257.09h0.9v0.9h-0.9zM182.01,254.84h0.9v0.9h-0.9zM186.96,255.24h0.9v0.9h-0.9zM151.19,230.93h0.9v0.9h-0.9zM141.47,236.62h0.9v0.9h-0.9zM143.84,256.11h0.9v0.9h-0.9zM171.79,252.76h0.9v0.9h-0.9zM156.77,245.81h0.9v0.9h-0.9zM150.71,267.18h0.9v0.9h-0.9zM138.78,239.07h0.9v0.9h-0.9zM166.08,232.49h0.9v0.9h-0.9zM179.87,246.57h0.9v0.9h-0.9zM156.16,226.96h0.9v0.9h-0.9zM151.77,251.71h0.9v0.9h-0.9z" fill="#e85a3a" fill-opacity="0.85"/><rect x="136.8" y="223.2" width="50.5" height="48.30000000000001" fill="none" stroke="#555" stroke-width="0.75"/><line x1="136.8" y1="223.2" x2="136.8" y2="271.5" stroke="#222" stroke-width="1.2"/><line x1="136.8" y1="271.5" x2="187.3" y2="271.5" stroke="#222" stroke-width="1.2"/><line x1="152.5" y1="223.2" x2="152.5" y2="271.5" stroke="#555" stroke-width="0.8"/><line x1="136.8" y1="257.4" x2="187.3" y2="257.4" stroke="#555" stroke-width="0.8"/><text x="138.6" y="277.1" font-family="'Liberation Sans', sans-serif" font-size="5.2" font-weight="normal" text-anchor="middle" fill="#666"  >10<tspan font-size="3.8" dy="-2">0</tspan></text><text x="133.8" y="270" font-family="'Liberation Sans', sans-serif" font-size="5.2" font-weight="normal" text-anchor="middle" fill="#666"  transform="rotate(-90 133.8 270)">10<tspan font-size="3.8" dy="-2">0</tspan></text><line x1="135.60000000000002" y1="271.5" x2="136.8" y2="271.5" stroke="#222" stroke-width="0.8"/><line x1="136.8" y1="271.5" x2="136.8" y2="272.7" stroke="#222" stroke-width="0.8"/><text x="151.23" y="277.1" font-family="'Liberation Sans', sans-serif" font-size="5.2" font-weight="normal" text-anchor="middle" fill="#666"  >10<tspan font-size="3.8" dy="-2">1</tspan></text><text x="133.8" y="257.93" font-family="'Liberation Sans', sans-serif" font-size="5.2" font-weight="normal" text-anchor="middle" fill="#666"  transform="rotate(-90 133.8 257.93)">10<tspan font-size="3.8" dy="-2">1</tspan></text><line x1="135.60000000000002" y1="259.43" x2="136.8" y2="259.43" stroke="#222" stroke-width="0.8"/><line x1="149.43" y1="271.5" x2="149.43" y2="272.7" stroke="#222" stroke-width="0.8"/><text x="163.85" y="277.1" font-family="'Liberation Sans', sans-serif" font-size="5.2" font-weight="normal" text-anchor="middle" fill="#666"  >10<tspan font-size="3.8" dy="-2">2</tspan></text><text x="133.8" y="245.85" font-family="'Liberation Sans', sans-serif" font-size="5.2" font-weight="normal" text-anchor="middle" fill="#666"  transform="rotate(-90 133.8 245.85)">10<tspan font-size="3.8" dy="-2">2</tspan></text><line x1="135.60000000000002" y1="247.35" x2="136.8" y2="247.35" stroke="#222" stroke-width="0.8"/><line x1="162.05" y1="271.5" x2="162.05" y2="272.7" stroke="#222" stroke-width="0.8"/><text x="176.48" y="277.1" font-family="'Liberation Sans', sans-serif" font-size="5.2" font-weight="normal" text-anchor="middle" fill="#666"  >10<tspan font-size="3.8" dy="-2">3</tspan></text><text x="133.8" y="233.77" font-family="'Liberation Sans', sans-serif" font-size="5.2" font-weight="normal" text-anchor="middle" fill="#666"  transform="rotate(-90 133.8 233.77)">10<tspan font-size="3.8" dy="-2">3</tspan></text><line x1="135.60000000000002" y1="235.27" x2="136.8" y2="235.27" stroke="#222" stroke-width="0.8"/><line x1="174.68" y1="271.5" x2="174.68" y2="272.7" stroke="#222" stroke-width="0.8"/><text x="189.1" y="277.1" font-family="'Liberation Sans', sans-serif" font-size="5.2" font-weight="normal" text-anchor="middle" fill="#666"  >10<tspan font-size="3.8" dy="-2">4</tspan></text><text x="133.8" y="221.7" font-family="'Liberation Sans', sans-serif" font-size="5.2" font-weight="normal" text-anchor="middle" fill="#666"  transform="rotate(-90 133.8 221.7)">10<tspan font-size="3.8" dy="-2">4</tspan></text><line x1="135.60000000000002" y1="223.2" x2="136.8" y2="223.2" stroke="#222" stroke-width="0.8"/><line x1="187.3" y1="271.5" x2="187.3" y2="272.7" stroke="#222" stroke-width="0.8"/><text x="162.05" y="282.9" font-family="'Liberation Sans', sans-serif" font-size="5.5" font-weight="normal" text-anchor="middle" fill="#555"  >CD235a - FITC</text><text x="127" y="248.35" font-family="'Liberation Sans', sans-serif" font-size="5.5" font-weight="normal" text-anchor="middle" fill="#555"  transform="rotate(-90 127 248.35)">CD71 - PE</text><g id="after-flow"></g><line x1="263" y1="241.25" x2="443" y2="241.25" stroke="#777" stroke-width="1"/><line x1="260" y1="241.25" x2="263" y2="241.25" stroke="#777" stroke-width="1"/><text x="258" y="243.85" font-family="'Liberation Sans', sans-serif" font-size="7" font-weight="bold" text-anchor="end" fill="#222" textLength="4.24" lengthAdjust="spacingAndGlyphs" >0</text><line x1="263" y1="232.7" x2="443" y2="232.7" stroke="#999" stroke-width="1"/><line x1="260" y1="232.7" x2="263" y2="232.7" stroke="#777" stroke-width="1"/><text x="258" y="235.3" font-family="'Liberation Sans', sans-serif" font-size="7" font-weight="bold" text-anchor="end" fill="#222" textLength="8.49" lengthAdjust="spacingAndGlyphs" >10</text><line x1="263" y1="224.15" x2="443" y2="224.15" stroke="#999" stroke-width="1"/><line x1="260" y1="224.15" x2="263" y2="224.15" stroke="#777" stroke-width="1"/><text x="258" y="226.75" font-family="'Liberation Sans', sans-serif" font-size="7" font-weight="bold" text-anchor="end" fill="#222" textLength="8.49" lengthAdjust="spacingAndGlyphs" >20</text><line x1="263" y1="215.6" x2="443" y2="215.6" stroke="#999" stroke-width="1"/><line x1="260" y1="215.6" x2="263" y2="215.6" stroke="#777" stroke-width="1"/><text x="258" y="218.2" font-family="'Liberation Sans', sans-serif" font-size="7" font-weight="bold" text-anchor="end" fill="#222" textLength="8.49" lengthAdjust="spacingAndGlyphs" >30</text><line x1="263" y1="207.05" x2="443" y2="207.05" stroke="#999" stroke-width="1"/><line x1="260" y1="207.05" x2="263" y2="207.05" stroke="#777" stroke-width="1"/><text x="258" y="209.65" font-family="'Liberation Sans', sans-serif" font-size="7" font-weight="bold" text-anchor="end" fill="#222" textLength="8.49" lengthAdjust="spacingAndGlyphs" >40</text><line x1="263" y1="198.5" x2="443" y2="198.5" stroke="#999" stroke-width="1"/><line x1="260" y1="198.5" x2="263" y2="198.5" stroke="#777" stroke-width="1"/><text x="258" y="201.1" font-family="'Liberation Sans', sans-serif" font-size="7" font-weight="bold" text-anchor="end" fill="#222" textLength="8.49" lengthAdjust="spacingAndGlyphs" >50</text><line x1="263" y1="189.95" x2="443" y2="189.95" stroke="#999" stroke-width="1"/><line x1="260" y1="189.95" x2="263" y2="189.95" stroke="#777" stroke-width="1"/><text x="258" y="192.55" font-family="'Liberation Sans', sans-serif" font-size="7" font-weight="bold" text-anchor="end" fill="#222" textLength="8.49" lengthAdjust="spacingAndGlyphs" >60</text><line x1="263" y1="181.4" x2="443" y2="181.4" stroke="#999" stroke-width="1"/><line x1="260" y1="181.4" x2="263" y2="181.4" stroke="#777" stroke-width="1"/><text x="258" y="184" font-family="'Liberation Sans', sans-serif" font-size="7" font-weight="bold" text-anchor="end" fill="#222" textLength="8.49" lengthAdjust="spacingAndGlyphs" >70</text><line x1="263" y1="172.85" x2="443" y2="172.85" stroke="#999" stroke-width="1"/><line x1="260" y1="172.85" x2="263" y2="172.85" stroke="#777" stroke-width="1"/><text x="258" y="175.45" font-family="'Liberation Sans', sans-serif" font-size="7" font-weight="bold" text-anchor="end" fill="#222" textLength="8.49" lengthAdjust="spacingAndGlyphs" >80</text><line x1="263" y1="164.3" x2="443" y2="164.3" stroke="#999" stroke-width="1"/><line x1="260" y1="164.3" x2="263" y2="164.3" stroke="#777" stroke-width="1"/><text x="258" y="166.9" font-family="'Liberation Sans', sans-serif" font-size="7" font-weight="bold" text-anchor="end" fill="#222" textLength="8.49" lengthAdjust="spacingAndGlyphs" >90</text><line x1="263" y1="155.75" x2="443" y2="155.75" stroke="#999" stroke-width="1"/><line x1="260" y1="155.75" x2="263" y2="155.75" stroke="#777" stroke-width="1"/><text x="258" y="158.35" font-family="'Liberation Sans', sans-serif" font-size="7" font-weight="bold" text-anchor="end" fill="#222" textLength="12.73" lengthAdjust="spacingAndGlyphs" >100</text><line x1="263" y1="155.75" x2="263" y2="241.25" stroke="#777" stroke-width="1"/><line x1="443" y1="155.75" x2="443" y2="241.25" stroke="#999" stroke-width="1"/><line x1="263" y1="241.25" x2="263" y2="244.25" stroke="#777" stroke-width="1"/><line x1="308" y1="241.25" x2="308" y2="244.25" stroke="#777" stroke-width="1"/><line x1="353" y1="241.25" x2="353" y2="244.25" stroke="#777" stroke-width="1"/><line x1="398" y1="241.25" x2="398" y2="244.25" stroke="#777" stroke-width="1"/><line x1="443" y1="241.25" x2="443" y2="244.25" stroke="#777" stroke-width="1"/><text x="285.5" y="253" font-family="'Liberation Sans', sans-serif" font-size="7" font-weight="bold" text-anchor="middle" fill="#222" textLength="4.24" lengthAdjust="spacingAndGlyphs" >3</text><text x="330.5" y="253" font-family="'Liberation Sans', sans-serif" font-size="7" font-weight="bold" text-anchor="middle" fill="#222" textLength="4.24" lengthAdjust="spacingAndGlyphs" >7</text><text x="375.5" y="253" font-family="'Liberation Sans', sans-serif" font-size="7" font-weight="bold" text-anchor="middle" fill="#222" textLength="8.49" lengthAdjust="spacingAndGlyphs" >13</text><text x="420.5" y="253" font-family="'Liberation Sans', sans-serif" font-size="7" font-weight="bold" text-anchor="middle" fill="#222" textLength="8.49" lengthAdjust="spacingAndGlyphs" >19</text><text x="352.85" y="264" font-family="'Liberation Sans', sans-serif" font-size="7" font-weight="bold" text-anchor="middle" fill="#222" textLength="52.3" lengthAdjust="spacingAndGlyphs" >Day of Culture</text><text x="238.75" y="201" font-family="'Liberation Sans', sans-serif" font-size="7" font-weight="bold" text-anchor="middle" fill="#222" textLength="87.5" lengthAdjust="spacingAndGlyphs" transform="rotate(-90 238.75 198.5)">Percent of Cells Positive</text><path d="M285.5,236.97 C293,234.91 315.5,230.56 330.5,224.58 C345.5,218.59 360.5,210.83 375.5,201.06 C390.5,191.3 413,171.85 420.5,166.01" fill="none" stroke="#000" stroke-width="2" stroke-dasharray="6,3.5"/><path d="M285.5,163.44 L330.5,222.44 L375.5,240.4 L420.5,240.4" fill="none" stroke="#000" stroke-width="2"/><path d="M285.5,160.44 L288.5,163.44 L285.5,166.44 L282.5,163.44 Z" fill="#000"/><path d="M330.5,219.44 L333.5,222.44 L330.5,225.44 L327.5,222.44 Z" fill="#000"/><path d="M375.5,237.4 L378.5,240.4 L375.5,243.4 L372.5,240.4 Z" fill="#000"/><path d="M420.5,237.4 L423.5,240.4 L420.5,243.4 L417.5,240.4 Z" fill="#000"/><rect x="282.7" y="234.17" width="5.6" height="5.6" fill="#000"/><rect x="327.7" y="221.78" width="5.6" height="5.6" fill="#000"/><rect x="372.7" y="198.26" width="5.6" height="5.6" fill="#000"/><rect x="417.7" y="163.21" width="5.6" height="5.6" fill="#000"/><rect x="447.5" y="190.6" width="49.8" height="16.5" fill="#fff" stroke="#777" stroke-width="0.9"/><line x1="449" y1="194.5" x2="473" y2="194.5" stroke="#000" stroke-width="1.6"/><path d="M461,192.3 L463.2,194.5 L461,196.7 L458.8,194.5 Z" fill="#000"/><line x1="449" y1="202.5" x2="473" y2="202.5" stroke="#000" stroke-width="1.6"/><rect x="459" y="200.5" width="4" height="4" fill="#000"/><text x="474" y="196.6" font-family="'Liberation Sans', sans-serif" font-size="5.5" font-weight="normal" text-anchor="start" fill="#222"  >CD34</text><text x="474" y="204.6" font-family="'Liberation Sans', sans-serif" font-size="5.5" font-weight="normal" text-anchor="start" fill="#222"  >CD235a</text><text x="0.2" y="318.8" font-family="'Liberation Sans', sans-serif" font-size="16" font-weight="bold" text-anchor="start" fill="#000"  >C</text><line x1="59.2" y1="401.2" x2="257" y2="401.2" stroke="#999" stroke-width="1"/><line x1="56.7" y1="401.2" x2="59.2" y2="401.2" stroke="#777" stroke-width="0.8"/><text x="55" y="403.2" font-family="'Liberation Sans', sans-serif" font-size="5.5" font-weight="bold" text-anchor="end" fill="#222" textLength="3.43" lengthAdjust="spacingAndGlyphs" >0</text><line x1="59.2" y1="385.7" x2="257" y2="385.7" stroke="#999" stroke-width="1"/><line x1="56.7" y1="385.7" x2="59.2" y2="385.7" stroke="#777" stroke-width="0.8"/><text x="55" y="387.7" font-family="'Liberation Sans', sans-serif" font-size="5.5" font-weight="bold" text-anchor="end" fill="#222" textLength="10.28" lengthAdjust="spacingAndGlyphs" >500</text><line x1="59.2" y1="370.2" x2="257" y2="370.2" stroke="#999" stroke-width="1"/><line x1="56.7" y1="370.2" x2="59.2" y2="370.2" stroke="#777" stroke-width="0.8"/><text x="55" y="372.2" font-family="'Liberation Sans', sans-serif" font-size="5.5" font-weight="bold" text-anchor="end" fill="#222" textLength="13.7" lengthAdjust="spacingAndGlyphs" >1000</text><line x1="59.2" y1="354.7" x2="257" y2="354.7" stroke="#999" stroke-width="1"/><line x1="56.7" y1="354.7" x2="59.2" y2="354.7" stroke="#777" stroke-width="0.8"/><text x="55" y="356.7" font-family="'Liberation Sans', sans-serif" font-size="5.5" font-weight="bold" text-anchor="end" fill="#222" textLength="13.7" lengthAdjust="spacingAndGlyphs" >1500</text><line x1="59.2" y1="339.2" x2="257" y2="339.2" stroke="#999" stroke-width="1"/><line x1="56.7" y1="339.2" x2="59.2" y2="339.2" stroke="#777" stroke-width="0.8"/><text x="55" y="341.2" font-family="'Liberation Sans', sans-serif" font-size="5.5" font-weight="bold" text-anchor="end" fill="#222" textLength="13.7" lengthAdjust="spacingAndGlyphs" >2000</text><line x1="59.2" y1="323.7" x2="257" y2="323.7" stroke="#999" stroke-width="1"/><line x1="56.7" y1="323.7" x2="59.2" y2="323.7" stroke="#777" stroke-width="0.8"/><text x="55" y="325.7" font-family="'Liberation Sans', sans-serif" font-size="5.5" font-weight="bold" text-anchor="end" fill="#222" textLength="13.7" lengthAdjust="spacingAndGlyphs" >2500</text><line x1="59.2" y1="323.7" x2="59.2" y2="401.2" stroke="#777" stroke-width="1"/><line x1="257" y1="323.7" x2="257" y2="401.2" stroke="#999" stroke-width="1"/><line x1="59.2" y1="401.2" x2="59.2" y2="403.7" stroke="#777" stroke-width="0.8"/><text x="59.2" y="410.2" font-family="'Liberation Sans', sans-serif" font-size="5.5" font-weight="bold" text-anchor="middle" fill="#222" textLength="3.43" lengthAdjust="spacingAndGlyphs" >0</text><line x1="108.65" y1="401.2" x2="108.65" y2="403.7" stroke="#777" stroke-width="0.8"/><text x="108.65" y="410.2" font-family="'Liberation Sans', sans-serif" font-size="5.5" font-weight="bold" text-anchor="middle" fill="#222" textLength="3.43" lengthAdjust="spacingAndGlyphs" >5</text><line x1="158.1" y1="401.2" x2="158.1" y2="403.7" stroke="#777" stroke-width="0.8"/><text x="158.1" y="410.2" font-family="'Liberation Sans', sans-serif" font-size="5.5" font-weight="bold" text-anchor="middle" fill="#222" textLength="6.85" lengthAdjust="spacingAndGlyphs" >10</text><line x1="207.55" y1="401.2" x2="207.55" y2="403.7" stroke="#777" stroke-width="0.8"/><text x="207.55" y="410.2" font-family="'Liberation Sans', sans-serif" font-size="5.5" font-weight="bold" text-anchor="middle" fill="#222" textLength="6.85" lengthAdjust="spacingAndGlyphs" >15</text><line x1="257" y1="401.2" x2="257" y2="403.7" stroke="#777" stroke-width="0.8"/><text x="257" y="410.2" font-family="'Liberation Sans', sans-serif" font-size="5.5" font-weight="bold" text-anchor="middle" fill="#222" textLength="6.85" lengthAdjust="spacingAndGlyphs" >20</text><text x="158.25" y="417.3" font-family="'Liberation Sans', sans-serif" font-size="5.5" font-weight="bold" text-anchor="middle" fill="#222" textLength="43.1" lengthAdjust="spacingAndGlyphs" >Day of Culture</text><text x="143" y="311.5" font-family="'Liberation Sans', sans-serif" font-size="6" font-weight="bold" text-anchor="middle" fill="#222" textLength="81.5" lengthAdjust="spacingAndGlyphs" >Cumulative Cell Number</text><g transform="translate(37.3,394) rotate(-90)"><text x="0" y="0" font-family="'Liberation Sans', sans-serif" font-size="5.5" font-weight="bold" text-anchor="start" fill="#222" textLength="55.3" lengthAdjust="spacingAndGlyphs" >Number of cells x 10</text><text x="55.6" y="-3.3" font-family="'Liberation Sans', sans-serif" font-size="4.5" font-weight="bold" text-anchor="start" fill="#222"  >5</text></g><path d="M59.2,401.2 C70.74,401.15 115.24,400.99 128.43,400.89 C141.62,400.79 133.38,400.98 138.32,400.58 C143.26,400.18 151.51,399.46 158.1,398.5 C164.69,397.54 171.29,396.65 177.88,394.81 C184.47,392.98 191.07,389.93 197.66,387.5 C204.25,385.06 210.85,384.38 217.44,380.21 C224.03,376.05 230.63,371.17 237.22,362.51 C243.81,353.86 253.7,333.99 257,328.29" fill="none" stroke="#000" stroke-width="1.6"/><circle cx="59.2" cy="401.2" r="1.9" fill="#000"/><circle cx="128.43" cy="400.89" r="1.9" fill="#000"/><circle cx="138.32" cy="400.58" r="1.9" fill="#000"/><circle cx="158.1" cy="398.5" r="1.9" fill="#000"/><circle cx="177.88" cy="394.81" r="1.9" fill="#000"/><circle cx="197.66" cy="387.5" r="1.9" fill="#000"/><circle cx="217.44" cy="380.21" r="1.9" fill="#000"/><circle cx="237.22" cy="362.51" r="1.9" fill="#000"/><circle cx="257" cy="328.29" r="1.9" fill="#000"/><line x1="321.5" y1="400.7" x2="515.5" y2="400.7" stroke="#999" stroke-width="1"/><line x1="319.0" y1="400.7" x2="321.5" y2="400.7" stroke="#777" stroke-width="0.8"/><text x="317.4" y="402.7" font-family="'Liberation Sans', sans-serif" font-size="5.5" font-weight="bold" text-anchor="end" fill="#222" textLength="3.43" lengthAdjust="spacingAndGlyphs" >1</text><line x1="321.5" y1="381.32" x2="515.5" y2="381.32" stroke="#999" stroke-width="1"/><line x1="319.0" y1="381.32" x2="321.5" y2="381.32" stroke="#777" stroke-width="0.8"/><text x="317.4" y="383.32" font-family="'Liberation Sans', sans-serif" font-size="5.5" font-weight="bold" text-anchor="end" fill="#222" textLength="6.85" lengthAdjust="spacingAndGlyphs" >10</text><line x1="321.5" y1="361.95" x2="515.5" y2="361.95" stroke="#999" stroke-width="1"/><line x1="319.0" y1="361.95" x2="321.5" y2="361.95" stroke="#777" stroke-width="0.8"/><text x="317.4" y="363.95" font-family="'Liberation Sans', sans-serif" font-size="5.5" font-weight="bold" text-anchor="end" fill="#222" textLength="10.28" lengthAdjust="spacingAndGlyphs" >100</text><line x1="321.5" y1="342.57" x2="515.5" y2="342.57" stroke="#999" stroke-width="1"/><line x1="319.0" y1="342.57" x2="321.5" y2="342.57" stroke="#777" stroke-width="0.8"/><text x="317.4" y="344.57" font-family="'Liberation Sans', sans-serif" font-size="5.5" font-weight="bold" text-anchor="end" fill="#222" textLength="13.7" lengthAdjust="spacingAndGlyphs" >1000</text><line x1="321.5" y1="323.2" x2="515.5" y2="323.2" stroke="#999" stroke-width="1"/><line x1="319.0" y1="323.2" x2="321.5" y2="323.2" stroke="#777" stroke-width="0.8"/><text x="317.4" y="325.2" font-family="'Liberation Sans', sans-serif" font-size="5.5" font-weight="bold" text-anchor="end" fill="#222" textLength="17.13" lengthAdjust="spacingAndGlyphs" >10000</text><line x1="321.5" y1="323.2" x2="321.5" y2="400.7" stroke="#777" stroke-width="1"/><line x1="515.5" y1="323.2" x2="515.5" y2="400.7" stroke="#999" stroke-width="1"/><line x1="321.5" y1="400.7" x2="321.5" y2="403.2" stroke="#777" stroke-width="0.8"/><text x="321.5" y="409.4" font-family="'Liberation Sans', sans-serif" font-size="5.5" font-weight="bold" text-anchor="middle" fill="#222" textLength="3.43" lengthAdjust="spacingAndGlyphs" >0</text><line x1="370" y1="400.7" x2="370" y2="403.2" stroke="#777" stroke-width="0.8"/><text x="370" y="409.4" font-family="'Liberation Sans', sans-serif" font-size="5.5" font-weight="bold" text-anchor="middle" fill="#222" textLength="3.43" lengthAdjust="spacingAndGlyphs" >5</text><line x1="418.5" y1="400.7" x2="418.5" y2="403.2" stroke="#777" stroke-width="0.8"/><text x="418.5" y="409.4" font-family="'Liberation Sans', sans-serif" font-size="5.5" font-weight="bold" text-anchor="middle" fill="#222" textLength="6.85" lengthAdjust="spacingAndGlyphs" >10</text><line x1="467" y1="400.7" x2="467" y2="403.2" stroke="#777" stroke-width="0.8"/><text x="467" y="409.4" font-family="'Liberation Sans', sans-serif" font-size="5.5" font-weight="bold" text-anchor="middle" fill="#222" textLength="6.85" lengthAdjust="spacingAndGlyphs" >15</text><line x1="515.5" y1="400.7" x2="515.5" y2="403.2" stroke="#777" stroke-width="0.8"/><text x="515.5" y="409.4" font-family="'Liberation Sans', sans-serif" font-size="5.5" font-weight="bold" text-anchor="middle" fill="#222" textLength="6.85" lengthAdjust="spacingAndGlyphs" >20</text><text x="418.5" y="417" font-family="'Liberation Sans', sans-serif" font-size="5.5" font-weight="bold" text-anchor="middle" fill="#222" textLength="43.1" lengthAdjust="spacingAndGlyphs" >Day of Culture</text><text x="401.65" y="311.5" font-family="'Liberation Sans', sans-serif" font-size="6" font-weight="bold" text-anchor="middle" fill="#222" textLength="80.7" lengthAdjust="spacingAndGlyphs" >Cumulative Cell Number</text><g transform="translate(296.6,392.4) rotate(-90)"><text x="0" y="0" font-family="'Liberation Sans', sans-serif" font-size="5.5" font-weight="bold" text-anchor="start" fill="#222" textLength="53" lengthAdjust="spacingAndGlyphs" >Number of cells x 10</text><text x="53.3" y="-3.3" font-family="'Liberation Sans', sans-serif" font-size="4.5" font-weight="bold" text-anchor="start" fill="#222"  >5</text></g><line x1="321.5" y1="400.7" x2="515.5" y2="330.91" stroke="#000" stroke-width="1.5"/><circle cx="321.5" cy="400.7" r="1.9" fill="#000"/><circle cx="389.4" cy="376.86" r="2" fill="#000"/><circle cx="399.1" cy="373.96" r="2" fill="#000"/><circle cx="418.5" cy="361.95" r="2" fill="#000"/><circle cx="437.9" cy="355.75" r="2" fill="#000"/><circle cx="457.3" cy="349.74" r="2" fill="#000"/><circle cx="476.7" cy="345.87" r="2" fill="#000"/><circle cx="496.1" cy="340.76" r="2" fill="#000"/><circle cx="515.5" cy="335.57" r="2" fill="#000"/><text x="-0.2" y="454.6" font-family="'Liberation Sans', sans-serif" font-size="16" font-weight="bold" text-anchor="start" fill="#000"  >D</text><rect x="61" y="453.8" width="181.5" height="73.69999999999999" fill="none" stroke="#999" stroke-width="0.8"/><line x1="61" y1="453.8" x2="61" y2="527.5" stroke="#666" stroke-width="1"/><line x1="61" y1="527.5" x2="242.5" y2="527.5" stroke="#666" stroke-width="1"/><line x1="58.5" y1="527.5" x2="61" y2="527.5" stroke="#666" stroke-width="0.8"/><text x="56.3" y="529.3" font-family="'Liberation Sans', sans-serif" font-size="6" font-weight="bold" text-anchor="end" fill="#222"  >0</text><line x1="58.5" y1="512.78" x2="61" y2="512.78" stroke="#666" stroke-width="0.8"/><text x="56.3" y="514.58" font-family="'Liberation Sans', sans-serif" font-size="6" font-weight="bold" text-anchor="end" fill="#222"  >20</text><line x1="58.5" y1="498.06" x2="61" y2="498.06" stroke="#666" stroke-width="0.8"/><text x="56.3" y="499.86" font-family="'Liberation Sans', sans-serif" font-size="6" font-weight="bold" text-anchor="end" fill="#222"  >40</text><line x1="58.5" y1="483.34" x2="61" y2="483.34" stroke="#666" stroke-width="0.8"/><text x="56.3" y="485.14" font-family="'Liberation Sans', sans-serif" font-size="6" font-weight="bold" text-anchor="end" fill="#222"  >60</text><line x1="58.5" y1="468.62" x2="61" y2="468.62" stroke="#666" stroke-width="0.8"/><text x="56.3" y="470.42" font-family="'Liberation Sans', sans-serif" font-size="6" font-weight="bold" text-anchor="end" fill="#222"  >80</text><line x1="58.5" y1="453.9" x2="61" y2="453.9" stroke="#666" stroke-width="0.8"/><text x="56.3" y="455.7" font-family="'Liberation Sans', sans-serif" font-size="6" font-weight="bold" text-anchor="end" fill="#222"  >100</text><line x1="61" y1="527.5" x2="61" y2="530.0" stroke="#666" stroke-width="0.8"/><line x1="81.17" y1="527.5" x2="81.17" y2="530.0" stroke="#666" stroke-width="0.8"/><line x1="101.33" y1="527.5" x2="101.33" y2="530.0" stroke="#666" stroke-width="0.8"/><line x1="121.5" y1="527.5" x2="121.5" y2="530.0" stroke="#666" stroke-width="0.8"/><line x1="141.67" y1="527.5" x2="141.67" y2="530.0" stroke="#666" stroke-width="0.8"/><line x1="161.83" y1="527.5" x2="161.83" y2="530.0" stroke="#666" stroke-width="0.8"/><line x1="182" y1="527.5" x2="182" y2="530.0" stroke="#666" stroke-width="0.8"/><line x1="202.17" y1="527.5" x2="202.17" y2="530.0" stroke="#666" stroke-width="0.8"/><line x1="222.33" y1="527.5" x2="222.33" y2="530.0" stroke="#666" stroke-width="0.8"/><line x1="242.5" y1="527.5" x2="242.5" y2="530.0" stroke="#666" stroke-width="0.8"/><text x="71.08" y="538.3" font-family="'Liberation Sans', sans-serif" font-size="6" font-weight="bold" text-anchor="middle" fill="#222"  >4</text><text x="91.25" y="538.3" font-family="'Liberation Sans', sans-serif" font-size="6" font-weight="bold" text-anchor="middle" fill="#222"  >6</text><text x="111.42" y="538.3" font-family="'Liberation Sans', sans-serif" font-size="6" font-weight="bold" text-anchor="middle" fill="#222"  >8</text><text x="131.58" y="538.3" font-family="'Liberation Sans', sans-serif" font-size="6" font-weight="bold" text-anchor="middle" fill="#222"  >10</text><text x="151.75" y="538.3" font-family="'Liberation Sans', sans-serif" font-size="6" font-weight="bold" text-anchor="middle" fill="#222"  >12</text><text x="171.92" y="538.3" font-family="'Liberation Sans', sans-serif" font-size="6" font-weight="bold" text-anchor="middle" fill="#222"  >14</text><text x="192.08" y="538.3" font-family="'Liberation Sans', sans-serif" font-size="6" font-weight="bold" text-anchor="middle" fill="#222"  >16</text><text x="212.25" y="538.3" font-family="'Liberation Sans', sans-serif" font-size="6" font-weight="bold" text-anchor="middle" fill="#222"  >18</text><text x="232.42" y="538.3" font-family="'Liberation Sans', sans-serif" font-size="6" font-weight="bold" text-anchor="middle" fill="#222"  >20</text><text x="151.6" y="548.4" font-family="'Liberation Sans', sans-serif" font-size="6" font-weight="bold" text-anchor="middle" fill="#222"  >Days of Culture</text><text x="146.7" y="446" font-family="'Liberation Sans', sans-serif" font-size="6.5" font-weight="bold" text-anchor="middle" fill="#222" textLength="81.4" lengthAdjust="spacingAndGlyphs" >Globin Gene Expression</text><text x="40.2" y="492.8" font-family="'Liberation Sans', sans-serif" font-size="6" font-weight="bold" text-anchor="middle" fill="#222" textLength="52.7" lengthAdjust="spacingAndGlyphs" transform="rotate(-90 40.2 490.7)">Relative Expression</text><path d="M71.08,515.72 V524.56 M69.08,515.72 H73.08 M69.08,524.56 H73.08" stroke="#555" stroke-width="0.8" fill="none"/><path d="M131.58,512.41 V514.62 M129.58,512.41 H133.58 M129.58,514.62 H133.58" stroke="#555" stroke-width="0.8" fill="none"/><path d="M151.75,476.35 V505.79 M149.75,476.35 H153.75 M149.75,505.79 H153.75" stroke="#555" stroke-width="0.8" fill="none"/><path d="M171.92,460.16 V469.72 M169.92,460.16 H173.92 M169.92,469.72 H173.92" stroke="#555" stroke-width="0.8" fill="none"/><path d="M192.08,453.16 V467.88 M190.08,453.16 H194.08 M190.08,467.88 H194.08" stroke="#555" stroke-width="0.8" fill="none"/><path d="M212.25,468.62 V473.77 M210.25,468.62 H214.25 M210.25,473.77 H214.25" stroke="#555" stroke-width="0.8" fill="none"/><path d="M232.42,495.85 V506.52 M230.42,495.85 H234.42 M230.42,506.52 H234.42" stroke="#555" stroke-width="0.8" fill="none"/><path d="M71.08,526.76 C74.44,526.76 84.53,526.76 91.25,526.76 C97.97,526.76 104.69,526.89 111.42,526.76 C118.14,526.64 124.86,526.46 131.58,526.03 C138.31,525.6 145.03,524.56 151.75,524.19 C158.47,523.82 165.19,523.51 171.92,523.82 C178.64,524.13 185.36,525.48 192.08,526.03 C198.81,526.58 205.53,526.89 212.25,527.13 C218.97,527.38 229.06,527.44 232.42,527.5" fill="none" stroke="#000" stroke-width="1.8" stroke-dasharray="4,3"/><path d="M71.08,524.56 C74.44,524.19 84.53,522.59 91.25,522.35 C97.97,522.1 104.69,524.56 111.42,523.08 C118.14,521.61 124.86,518.85 131.58,513.52 C138.31,508.18 145.03,499.16 151.75,491.07 C158.47,482.97 165.19,470.28 171.92,464.94 C178.64,459.6 185.36,458.01 192.08,459.05 C198.81,460.09 205.53,464.2 212.25,471.2 C218.97,478.19 229.06,496.04 232.42,501" fill="none" stroke="#000" stroke-width="1.8"/><circle cx="71.08" cy="524.56" r="2.1" fill="#000"/><circle cx="91.25" cy="522.35" r="2.1" fill="#000"/><circle cx="111.42" cy="523.08" r="2.1" fill="#000"/><circle cx="131.58" cy="513.52" r="2.1" fill="#000"/><circle cx="151.75" cy="491.07" r="2.1" fill="#000"/><circle cx="171.92" cy="464.94" r="2.1" fill="#000"/><circle cx="192.08" cy="459.05" r="2.1" fill="#000"/><circle cx="212.25" cy="471.2" r="2.1" fill="#000"/><circle cx="232.42" cy="501" r="2.1" fill="#000"/><rect x="68.68" y="524.36" width="4.8" height="4.8" fill="#000"/><rect x="88.85" y="524.36" width="4.8" height="4.8" fill="#000"/><rect x="109.02" y="524.36" width="4.8" height="4.8" fill="#000"/><rect x="129.18" y="523.63" width="4.8" height="4.8" fill="#000"/><rect x="149.35" y="521.79" width="4.8" height="4.8" fill="#000"/><rect x="169.52" y="521.42" width="4.8" height="4.8" fill="#000"/><rect x="189.68" y="523.63" width="4.8" height="4.8" fill="#000"/><rect x="209.85" y="524.73" width="4.8" height="4.8" fill="#000"/><rect x="230.02" y="525.1" width="4.8" height="4.8" fill="#000"/><rect x="88.2" y="468.2" width="34.6" height="19.2" fill="#fff" stroke="#444" stroke-width="0.7"/><line x1="94.2" y1="472.8" x2="114.2" y2="472.8" stroke="#000" stroke-width="1.6"/><circle cx="103.8" cy="472.8" r="1.6" fill="#000"/><line x1="94.2" y1="482.3" x2="114.2" y2="482.3" stroke="#000" stroke-width="1.6" stroke-dasharray="2.5,2.5"/><rect x="101.8" y="480.3" width="4" height="4" fill="#000"/><text x="114.5" y="475.2" font-family="'Liberation Sans', sans-serif" font-size="6.5" font-weight="normal" text-anchor="start" fill="#000"  >β</text><text x="114.5" y="484.5" font-family="'Liberation Sans', sans-serif" font-size="6.5" font-weight="normal" text-anchor="start" fill="#000"  >γ</text><text x="-0.2" y="583.4" font-family="'Liberation Sans', sans-serif" font-size="16" font-weight="bold" text-anchor="start" fill="#000"  >E</text><rect x="51.25" y="586.6" width="203.25" height="78.19999999999993" fill="none" stroke="#999" stroke-width="0.8"/><line x1="51.25" y1="586.6" x2="51.25" y2="664.8" stroke="#666" stroke-width="1"/><line x1="51.25" y1="664.8" x2="254.5" y2="664.8" stroke="#666" stroke-width="1"/><line x1="49.25" y1="664.8" x2="51.25" y2="664.8" stroke="#666" stroke-width="0.7"/><text x="48" y="666.4" font-family="'Liberation Sans', sans-serif" font-size="4.5" font-weight="bold" text-anchor="end" fill="#222"  >0</text><line x1="49.25" y1="651.77" x2="51.25" y2="651.77" stroke="#666" stroke-width="0.7"/><text x="48" y="653.37" font-family="'Liberation Sans', sans-serif" font-size="4.5" font-weight="bold" text-anchor="end" fill="#222"  >0.2</text><line x1="49.25" y1="638.73" x2="51.25" y2="638.73" stroke="#666" stroke-width="0.7"/><text x="48" y="640.33" font-family="'Liberation Sans', sans-serif" font-size="4.5" font-weight="bold" text-anchor="end" fill="#222"  >0.4</text><line x1="49.25" y1="625.7" x2="51.25" y2="625.7" stroke="#666" stroke-width="0.7"/><text x="48" y="627.3" font-family="'Liberation Sans', sans-serif" font-size="4.5" font-weight="bold" text-anchor="end" fill="#222"  >0.6</text><line x1="49.25" y1="612.67" x2="51.25" y2="612.67" stroke="#666" stroke-width="0.7"/><text x="48" y="614.27" font-family="'Liberation Sans', sans-serif" font-size="4.5" font-weight="bold" text-anchor="end" fill="#222"  >0.8</text><line x1="49.25" y1="599.63" x2="51.25" y2="599.63" stroke="#666" stroke-width="0.7"/><text x="48" y="601.23" font-family="'Liberation Sans', sans-serif" font-size="4.5" font-weight="bold" text-anchor="end" fill="#222"  >1</text><line x1="49.25" y1="586.6" x2="51.25" y2="586.6" stroke="#666" stroke-width="0.7"/><text x="48" y="588.2" font-family="'Liberation Sans', sans-serif" font-size="4.5" font-weight="bold" text-anchor="end" fill="#222"  >1.2</text><line x1="51.25" y1="664.8" x2="51.25" y2="666.8" stroke="#666" stroke-width="0.7"/><text x="51.25" y="673.8" font-family="'Liberation Sans', sans-serif" font-size="4.5" font-weight="bold" text-anchor="middle" fill="#222"  >2</text><line x1="73.83" y1="664.8" x2="73.83" y2="666.8" stroke="#666" stroke-width="0.7"/><text x="73.83" y="673.8" font-family="'Liberation Sans', sans-serif" font-size="4.5" font-weight="bold" text-anchor="middle" fill="#222"  >4</text><line x1="96.42" y1="664.8" x2="96.42" y2="666.8" stroke="#666" stroke-width="0.7"/><text x="96.42" y="673.8" font-family="'Liberation Sans', sans-serif" font-size="4.5" font-weight="bold" text-anchor="middle" fill="#222"  >6</text><line x1="119" y1="664.8" x2="119" y2="666.8" stroke="#666" stroke-width="0.7"/><text x="119" y="673.8" font-family="'Liberation Sans', sans-serif" font-size="4.5" font-weight="bold" text-anchor="middle" fill="#222"  >8</text><line x1="141.58" y1="664.8" x2="141.58" y2="666.8" stroke="#666" stroke-width="0.7"/><text x="141.58" y="673.8" font-family="'Liberation Sans', sans-serif" font-size="4.5" font-weight="bold" text-anchor="middle" fill="#222"  >10</text><line x1="164.17" y1="664.8" x2="164.17" y2="666.8" stroke="#666" stroke-width="0.7"/><text x="164.17" y="673.8" font-family="'Liberation Sans', sans-serif" font-size="4.5" font-weight="bold" text-anchor="middle" fill="#222"  >12</text><line x1="186.75" y1="664.8" x2="186.75" y2="666.8" stroke="#666" stroke-width="0.7"/><text x="186.75" y="673.8" font-family="'Liberation Sans', sans-serif" font-size="4.5" font-weight="bold" text-anchor="middle" fill="#222"  >14</text><line x1="209.33" y1="664.8" x2="209.33" y2="666.8" stroke="#666" stroke-width="0.7"/><text x="209.33" y="673.8" font-family="'Liberation Sans', sans-serif" font-size="4.5" font-weight="bold" text-anchor="middle" fill="#222"  >16</text><line x1="231.92" y1="664.8" x2="231.92" y2="666.8" stroke="#666" stroke-width="0.7"/><text x="231.92" y="673.8" font-family="'Liberation Sans', sans-serif" font-size="4.5" font-weight="bold" text-anchor="middle" fill="#222"  >18</text><line x1="254.5" y1="664.8" x2="254.5" y2="666.8" stroke="#666" stroke-width="0.7"/><text x="254.5" y="673.8" font-family="'Liberation Sans', sans-serif" font-size="4.5" font-weight="bold" text-anchor="middle" fill="#222"  >20</text><text x="152.8" y="682.3" font-family="'Liberation Sans', sans-serif" font-size="4.5" font-weight="normal" text-anchor="middle" fill="#222"  >Day of Culture</text><text x="146.75" y="577" font-family="'Liberation Sans', sans-serif" font-size="7" font-weight="bold" text-anchor="middle" fill="#111" textLength="102.5" lengthAdjust="spacingAndGlyphs" >Normalized Globin Gene Expression</text><text x="33.8" y="626.7" font-family="'Liberation Sans', sans-serif" font-size="4.5" font-weight="bold" text-anchor="middle" fill="#222" textLength="52.6" lengthAdjust="spacingAndGlyphs" transform="rotate(-90 33.8 625.1)">Proportion of Maximal</text><text x="39.1" y="626.7" font-family="'Liberation Sans', sans-serif" font-size="4.5" font-weight="bold" text-anchor="middle" fill="#222" textLength="27.3" lengthAdjust="spacingAndGlyphs" transform="rotate(-90 39.1 625.1)">Expression</text><path d="M73.83,653.72 V665.45 M72.23,653.72 H75.43 M72.23,665.45 H75.43" stroke="#777" stroke-width="0.7" fill="none"/><path d="M96.42,657.63 V661.54 M94.82,657.63 H98.02 M94.82,661.54 H98.02" stroke="#777" stroke-width="0.7" fill="none"/><path d="M119,658.28 V662.19 M117.4,658.28 H120.6 M117.4,662.19 H120.6" stroke="#777" stroke-width="0.7" fill="none"/><path d="M164.17,616.25 V644.92 M162.57,616.25 H165.77 M162.57,644.92 H165.77" stroke="#777" stroke-width="0.7" fill="none"/><path d="M186.75,601.59 V609.41 M185.15,601.59 H188.35 M185.15,609.41 H188.35" stroke="#777" stroke-width="0.7" fill="none"/><path d="M209.33,590.51 V608.11 M207.73,590.51 H210.93 M207.73,608.11 H210.93" stroke="#777" stroke-width="0.7" fill="none"/><path d="M254.5,634.17 V643.95 M252.9,634.17 H256.1 M252.9,643.95 H256.1" stroke="#777" stroke-width="0.7" fill="none"/><path d="M73.83,638.08 V658.28 M72.23,638.08 H75.43 M72.23,658.28 H75.43" stroke="#777" stroke-width="0.7" fill="none"/><path d="M96.42,640.36 V656.65 M94.82,640.36 H98.02 M94.82,656.65 H98.02" stroke="#777" stroke-width="0.7" fill="none"/><path d="M119,642.64 V651.77 M117.4,642.64 H120.6 M117.4,651.77 H120.6" stroke="#777" stroke-width="0.7" fill="none"/><path d="M141.58,625.05 V639.38 M139.98,625.05 H143.18 M139.98,639.38 H143.18" stroke="#777" stroke-width="0.7" fill="none"/><path d="M164.17,598.33 V602.24 M162.57,598.33 H165.77 M162.57,602.24 H165.77" stroke="#777" stroke-width="0.7" fill="none"/><path d="M186.75,592.47 V606.15 M185.15,592.47 H188.35 M185.15,606.15 H188.35" stroke="#777" stroke-width="0.7" fill="none"/><path d="M209.33,632.87 V636.78 M207.73,632.87 H210.93 M207.73,636.78 H210.93" stroke="#777" stroke-width="0.7" fill="none"/><path d="M231.92,649.81 V656.33 M230.32,649.81 H233.52 M230.32,656.33 H233.52" stroke="#777" stroke-width="0.7" fill="none"/><path d="M73.83,649.16 C77.6,649.32 88.89,650.35 96.42,650.14 C103.94,649.92 111.47,650.73 119,647.86 C126.53,644.98 134.06,640.8 141.58,632.87 C149.11,624.94 156.64,605.82 164.17,600.28 C171.69,594.75 179.22,593.88 186.75,599.63 C194.28,605.39 201.81,625.92 209.33,634.82 C216.86,643.73 224.39,649.05 231.92,653.07 C239.44,657.09 250.74,657.96 254.5,658.93" fill="none" stroke="#000" stroke-width="1.8" stroke-dasharray="2.8,2.2"/><path d="M73.83,661.54 C77.6,661.22 88.89,659.8 96.42,659.59 C103.94,659.37 111.47,661.65 119,660.24 C126.53,658.83 134.06,656.06 141.58,651.12 C149.11,646.17 156.64,638.19 164.17,630.59 C171.69,622.98 179.22,610.66 186.75,605.5 C194.28,600.34 201.81,598.82 209.33,599.63 C216.86,600.45 224.39,603.76 231.92,610.39 C239.44,617.01 250.74,634.55 254.5,639.38" fill="none" stroke="#000" stroke-width="1.9"/><circle cx="73.83" cy="661.54" r="1.8" fill="#000"/><circle cx="96.42" cy="659.59" r="1.8" fill="#000"/><circle cx="119" cy="660.24" r="1.8" fill="#000"/><circle cx="141.58" cy="651.12" r="1.8" fill="#000"/><circle cx="164.17" cy="630.59" r="1.8" fill="#000"/><circle cx="186.75" cy="605.5" r="1.8" fill="#000"/><circle cx="209.33" cy="599.63" r="1.8" fill="#000"/><circle cx="231.92" cy="610.39" r="1.8" fill="#000"/><circle cx="254.5" cy="639.38" r="1.8" fill="#000"/><rect x="71.73" y="647.06" width="4.2" height="4.2" fill="#000"/><rect x="94.32" y="648.04" width="4.2" height="4.2" fill="#000"/><rect x="116.9" y="645.76" width="4.2" height="4.2" fill="#000"/><rect x="139.48" y="630.77" width="4.2" height="4.2" fill="#000"/><rect x="162.07" y="598.18" width="4.2" height="4.2" fill="#000"/><rect x="184.65" y="597.53" width="4.2" height="4.2" fill="#000"/><rect x="207.23" y="632.72" width="4.2" height="4.2" fill="#000"/><rect x="229.82" y="650.97" width="4.2" height="4.2" fill="#000"/><rect x="252.4" y="656.83" width="4.2" height="4.2" fill="#000"/><rect x="83.1" y="601.9" width="36.1" height="18.8" fill="#fff" stroke="#555" stroke-width="0.7"/><line x1="92.3" y1="607" x2="106.2" y2="607" stroke="#000" stroke-width="1.4"/><circle cx="98.9" cy="607" r="1.5" fill="#000"/><line x1="92.3" y1="615.5" x2="106.2" y2="615.5" stroke="#000" stroke-width="1.4" stroke-dasharray="2,2"/><circle cx="98.9" cy="615.5" r="1.8" fill="#000"/><text x="106.5" y="610" font-family="'Liberation Sans', sans-serif" font-size="8" font-weight="normal" text-anchor="start" fill="#000"  >β</text><text x="106.5" y="618.5" font-family="'Liberation Sans', sans-serif" font-size="8" font-weight="normal" text-anchor="start" fill="#000"  >γ</text><text x="323.6" y="448.6" font-family="'Liberation Sans', sans-serif" font-size="16" font-weight="bold" text-anchor="start" fill="#000"  >F</text><rect x="347" y="437.3" width="95.6" height="207.3" fill="none" stroke="#000" stroke-width="2"/><path d="M356,596 L356,554.6 L356.6,596 M358.8,596 L358.8,559 L359.4,594" fill="none" stroke="#333" stroke-width="0.9"/><path d="M359.5,594 L360.5,588 L361.5,590 L362.5,588.5 L363.5,589 L364.4,577.2 L364.9,589 L366,589.5 L367,591 L368,590.5 L369,589.5 L370,590 L371,589 L372,590.5 L373,589 L374,588 L375,589 L376,588.5 L377,587.5 L378,588 L379,587.5 L380,588.5 L381,587 L382,587.5 L383,588 L384,586.5 L385,586 L386,587 L387,584 L388.5,582 L389.5,584 L390.5,589 L391.5,591 L392.5,592 L393.5,590 L394.5,587 L395.5,583 L396.5,579 L397.6,576.4 L398.5,579 L399.5,584 L400.5,586.5 L401.5,587 L402.5,586.5 L403.5,587.5 L404.5,587 L405.2,584.7" fill="none" stroke="#111" stroke-width="1.3" stroke-linejoin="round"/><path d="M415,577.7 L416,579 L417,580.5 L418,583 L419.5,585.6 L420.5,585 L421.5,587 L422.5,587.4 L423.5,586 L424.5,585 L425.5,585.5 L426.5,586 L427.5,585.5 L428.5,586.5 L429.5,587.5 L430.5,587 L431.5,588.5 L432.5,588 L433.5,589.5 L434.5,589 L435.5,590" fill="none" stroke="#111" stroke-width="1.3" stroke-linejoin="round"/><path d="M405.2,584.7 L406.5,575 L407.3,566.3 L408.3,545 L410.1,490 L411.1,448 L411.7,441.8 L412.3,448 L412.5,490 L412.6,545 L413.6,566 L415,577.7" fill="none" stroke="#666" stroke-width="1.1" stroke-linejoin="round"/><ellipse cx="411.7" cy="443" rx="1" ry="1.8" fill="#888"/><path d="M388.2,599.2 L394.0,609.8 L390.2,609.8 L390.2,621.4 L386.2,621.4 L386.2,609.8 L382.4,609.8 Z" fill="#000"/><path d="M410.4,599.2 L416.2,609.8 L412.4,609.8 L412.4,621.4 L408.4,621.4 L408.4,609.8 L404.59999999999997,609.8 Z" fill="#000"/><text x="378.8" y="637.7" font-family="'Liberation Sans', sans-serif" font-size="13" font-weight="bold" text-anchor="middle" fill="#000"  >HbF</text><text x="424.1" y="637.7" font-family="'Liberation Sans', sans-serif" font-size="13" font-weight="bold" text-anchor="middle" fill="#000"  >HbA</text><text x="396" y="660.1" font-family="'Liberation Serif', serif" font-size="12.5" font-weight="bold" text-anchor="middle" fill="#000"  >Hb HPLC</text></svg></body></html>
